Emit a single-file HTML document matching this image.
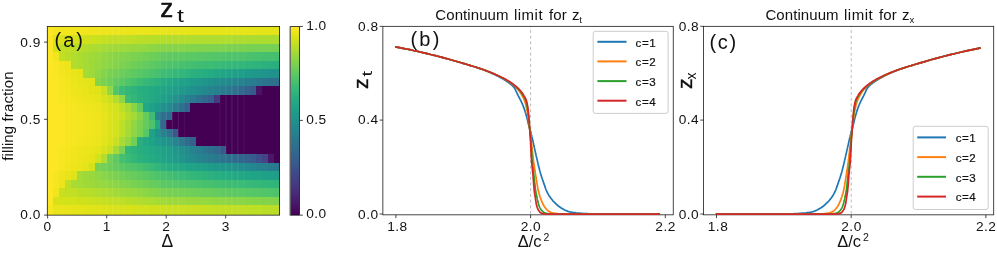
<!DOCTYPE html>
<html><head><meta charset="utf-8"><title>figure</title>
<style>
html,body{margin:0;padding:0;background:#fff;}
body{width:997px;height:255px;overflow:hidden;font-family:"Liberation Sans",sans-serif;}
svg{display:block;will-change:transform;}
svg text{font-family:"Liberation Sans",sans-serif;fill:#111;}
.tk{font-size:13.7px;letter-spacing:0.5px;}
.dl{font-size:17.5px;}
.yl{font-size:15px;letter-spacing:0.12px;}
.ta{font-size:26px;stroke:#111;stroke-width:0.55px;}
.tas{font-size:18px;}
.pl{font-size:20px;}
.tt{font-size:15px;letter-spacing:0.08px;}
.tts{font-size:9.5px;}
.xl{font-size:16.5px;}
.xls{font-size:10.5px;}
.yz{font-size:21px;stroke:#111;stroke-width:0.4px;}
.yzs{font-size:14px;}
.lg{font-size:11.6px;letter-spacing:0.5px;stroke:#111;stroke-width:0.2px;}
</style></head>
<body>
<svg width="997" height="255" viewBox="0 0 997 255">
<defs><linearGradient id="vg" x1="0" y1="0" x2="0" y2="1"><stop offset="0.0000" stop-color="#fde725"/><stop offset="0.0312" stop-color="#ece51b"/><stop offset="0.0625" stop-color="#d8e219"/><stop offset="0.0938" stop-color="#c2df23"/><stop offset="0.1250" stop-color="#addc30"/><stop offset="0.1562" stop-color="#98d83e"/><stop offset="0.1875" stop-color="#84d44b"/><stop offset="0.2188" stop-color="#70cf57"/><stop offset="0.2500" stop-color="#5ec962"/><stop offset="0.2812" stop-color="#4ec36b"/><stop offset="0.3125" stop-color="#3fbc73"/><stop offset="0.3438" stop-color="#32b67a"/><stop offset="0.3750" stop-color="#28ae80"/><stop offset="0.4062" stop-color="#22a785"/><stop offset="0.4375" stop-color="#1fa088"/><stop offset="0.4688" stop-color="#1f988b"/><stop offset="0.5000" stop-color="#21918c"/><stop offset="0.5312" stop-color="#23898e"/><stop offset="0.5625" stop-color="#26828e"/><stop offset="0.5938" stop-color="#297a8e"/><stop offset="0.6250" stop-color="#2c728e"/><stop offset="0.6562" stop-color="#2f6b8e"/><stop offset="0.6875" stop-color="#33638d"/><stop offset="0.7188" stop-color="#375b8d"/><stop offset="0.7500" stop-color="#3b528b"/><stop offset="0.7812" stop-color="#3e4989"/><stop offset="0.8125" stop-color="#424086"/><stop offset="0.8438" stop-color="#453781"/><stop offset="0.8750" stop-color="#472d7b"/><stop offset="0.9062" stop-color="#482374"/><stop offset="0.9375" stop-color="#48186a"/><stop offset="0.9688" stop-color="#470d60"/><stop offset="1.0000" stop-color="#440154"/></linearGradient></defs>
<rect x="0" y="0" width="997" height="255" fill="#ffffff"/>
<g shape-rendering="crispEdges">
<rect x="47.30" y="26.45" width="6.26" height="8.95" fill="#fde725"/>
<rect x="53.26" y="26.45" width="6.26" height="8.95" fill="#f6e620"/>
<rect x="59.21" y="26.45" width="24.13" height="8.95" fill="#f4e61e"/>
<rect x="83.04" y="26.45" width="18.17" height="8.95" fill="#f1e51d"/>
<rect x="100.91" y="26.45" width="24.13" height="8.95" fill="#efe51c"/>
<rect x="124.73" y="26.45" width="24.13" height="8.95" fill="#ece51b"/>
<rect x="148.56" y="26.45" width="24.13" height="8.95" fill="#eae51a"/>
<rect x="172.38" y="26.45" width="83.69" height="8.95" fill="#e7e419"/>
<rect x="255.77" y="26.45" width="24.13" height="8.95" fill="#e5e419"/>
<rect x="47.30" y="35.10" width="6.26" height="8.82" fill="#fde725"/>
<rect x="53.26" y="35.10" width="6.26" height="8.82" fill="#dfe318"/>
<rect x="59.21" y="35.10" width="6.26" height="8.82" fill="#dae319"/>
<rect x="65.17" y="35.10" width="6.26" height="8.82" fill="#d8e219"/>
<rect x="71.13" y="35.10" width="6.26" height="8.82" fill="#d5e21a"/>
<rect x="77.08" y="35.10" width="6.26" height="8.82" fill="#d2e21b"/>
<rect x="83.04" y="35.10" width="6.26" height="8.82" fill="#d0e11c"/>
<rect x="88.99" y="35.10" width="6.26" height="8.82" fill="#cde11d"/>
<rect x="94.95" y="35.10" width="6.26" height="8.82" fill="#cae11f"/>
<rect x="100.91" y="35.10" width="6.26" height="8.82" fill="#c5e021"/>
<rect x="106.86" y="35.10" width="12.21" height="8.82" fill="#c2df23"/>
<rect x="118.78" y="35.10" width="12.21" height="8.82" fill="#c0df25"/>
<rect x="130.69" y="35.10" width="6.26" height="8.82" fill="#bddf26"/>
<rect x="136.65" y="35.10" width="12.21" height="8.82" fill="#bade28"/>
<rect x="148.56" y="35.10" width="6.26" height="8.82" fill="#b8de29"/>
<rect x="154.52" y="35.10" width="12.21" height="8.82" fill="#b5de2b"/>
<rect x="166.43" y="35.10" width="24.13" height="8.82" fill="#b2dd2d"/>
<rect x="190.25" y="35.10" width="41.99" height="8.82" fill="#b0dd2f"/>
<rect x="231.95" y="35.10" width="47.95" height="8.82" fill="#addc30"/>
<rect x="47.30" y="43.62" width="6.26" height="8.82" fill="#fde725"/>
<rect x="53.26" y="43.62" width="6.26" height="8.82" fill="#d2e21b"/>
<rect x="59.21" y="43.62" width="6.26" height="8.82" fill="#c2df23"/>
<rect x="65.17" y="43.62" width="6.26" height="8.82" fill="#c0df25"/>
<rect x="71.13" y="43.62" width="6.26" height="8.82" fill="#bade28"/>
<rect x="77.08" y="43.62" width="6.26" height="8.82" fill="#b8de29"/>
<rect x="83.04" y="43.62" width="6.26" height="8.82" fill="#b2dd2d"/>
<rect x="88.99" y="43.62" width="6.26" height="8.82" fill="#addc30"/>
<rect x="94.95" y="43.62" width="6.26" height="8.82" fill="#aadc32"/>
<rect x="100.91" y="43.62" width="6.26" height="8.82" fill="#a5db36"/>
<rect x="106.86" y="43.62" width="6.26" height="8.82" fill="#a2da37"/>
<rect x="112.82" y="43.62" width="6.26" height="8.82" fill="#a0da39"/>
<rect x="118.78" y="43.62" width="6.26" height="8.82" fill="#9dd93b"/>
<rect x="124.73" y="43.62" width="6.26" height="8.82" fill="#9bd93c"/>
<rect x="130.69" y="43.62" width="6.26" height="8.82" fill="#98d83e"/>
<rect x="136.65" y="43.62" width="6.26" height="8.82" fill="#95d840"/>
<rect x="142.60" y="43.62" width="6.26" height="8.82" fill="#93d741"/>
<rect x="148.56" y="43.62" width="6.26" height="8.82" fill="#8ed645"/>
<rect x="154.52" y="43.62" width="6.26" height="8.82" fill="#8bd646"/>
<rect x="160.47" y="43.62" width="6.26" height="8.82" fill="#89d548"/>
<rect x="166.43" y="43.62" width="18.17" height="8.82" fill="#86d549"/>
<rect x="184.30" y="43.62" width="12.21" height="8.82" fill="#84d44b"/>
<rect x="196.21" y="43.62" width="12.21" height="8.82" fill="#81d34d"/>
<rect x="208.12" y="43.62" width="18.17" height="8.82" fill="#7fd34e"/>
<rect x="225.99" y="43.62" width="12.21" height="8.82" fill="#7cd250"/>
<rect x="237.91" y="43.62" width="12.21" height="8.82" fill="#7ad151"/>
<rect x="249.82" y="43.62" width="18.17" height="8.82" fill="#77d153"/>
<rect x="267.69" y="43.62" width="12.21" height="8.82" fill="#75d054"/>
<rect x="47.30" y="52.13" width="6.26" height="8.82" fill="#fde725"/>
<rect x="53.26" y="52.13" width="6.26" height="8.82" fill="#f1e51d"/>
<rect x="59.21" y="52.13" width="6.26" height="8.82" fill="#c2df23"/>
<rect x="65.17" y="52.13" width="6.26" height="8.82" fill="#bade28"/>
<rect x="71.13" y="52.13" width="6.26" height="8.82" fill="#b2dd2d"/>
<rect x="77.08" y="52.13" width="6.26" height="8.82" fill="#addc30"/>
<rect x="83.04" y="52.13" width="6.26" height="8.82" fill="#a5db36"/>
<rect x="88.99" y="52.13" width="6.26" height="8.82" fill="#a0da39"/>
<rect x="94.95" y="52.13" width="6.26" height="8.82" fill="#9bd93c"/>
<rect x="100.91" y="52.13" width="6.26" height="8.82" fill="#93d741"/>
<rect x="106.86" y="52.13" width="6.26" height="8.82" fill="#8ed645"/>
<rect x="112.82" y="52.13" width="6.26" height="8.82" fill="#89d548"/>
<rect x="118.78" y="52.13" width="6.26" height="8.82" fill="#84d44b"/>
<rect x="124.73" y="52.13" width="6.26" height="8.82" fill="#7fd34e"/>
<rect x="130.69" y="52.13" width="6.26" height="8.82" fill="#7cd250"/>
<rect x="136.65" y="52.13" width="6.26" height="8.82" fill="#77d153"/>
<rect x="142.60" y="52.13" width="6.26" height="8.82" fill="#73d056"/>
<rect x="148.56" y="52.13" width="6.26" height="8.82" fill="#6ece58"/>
<rect x="154.52" y="52.13" width="6.26" height="8.82" fill="#69cd5b"/>
<rect x="160.47" y="52.13" width="6.26" height="8.82" fill="#65cb5e"/>
<rect x="166.43" y="52.13" width="6.26" height="8.82" fill="#60ca60"/>
<rect x="172.38" y="52.13" width="12.21" height="8.82" fill="#5ec962"/>
<rect x="184.30" y="52.13" width="6.26" height="8.82" fill="#5cc863"/>
<rect x="190.25" y="52.13" width="6.26" height="8.82" fill="#5ac864"/>
<rect x="196.21" y="52.13" width="6.26" height="8.82" fill="#58c765"/>
<rect x="202.17" y="52.13" width="12.21" height="8.82" fill="#56c667"/>
<rect x="214.08" y="52.13" width="6.26" height="8.82" fill="#54c568"/>
<rect x="220.04" y="52.13" width="6.26" height="8.82" fill="#52c569"/>
<rect x="225.99" y="52.13" width="6.26" height="8.82" fill="#50c46a"/>
<rect x="231.95" y="52.13" width="12.21" height="8.82" fill="#4ec36b"/>
<rect x="243.86" y="52.13" width="6.26" height="8.82" fill="#4cc26c"/>
<rect x="249.82" y="52.13" width="6.26" height="8.82" fill="#4ac16d"/>
<rect x="255.77" y="52.13" width="6.26" height="8.82" fill="#48c16e"/>
<rect x="261.73" y="52.13" width="12.21" height="8.82" fill="#46c06f"/>
<rect x="273.64" y="52.13" width="6.26" height="8.82" fill="#44bf70"/>
<rect x="47.30" y="60.65" width="6.26" height="8.82" fill="#fde725"/>
<rect x="53.26" y="60.65" width="6.26" height="8.82" fill="#f8e621"/>
<rect x="59.21" y="60.65" width="6.26" height="8.82" fill="#f1e51d"/>
<rect x="65.17" y="60.65" width="6.26" height="8.82" fill="#ece51b"/>
<rect x="71.13" y="60.65" width="6.26" height="8.82" fill="#b2dd2d"/>
<rect x="77.08" y="60.65" width="6.26" height="8.82" fill="#addc30"/>
<rect x="83.04" y="60.65" width="6.26" height="8.82" fill="#a5db36"/>
<rect x="88.99" y="60.65" width="6.26" height="8.82" fill="#9dd93b"/>
<rect x="94.95" y="60.65" width="6.26" height="8.82" fill="#98d83e"/>
<rect x="100.91" y="60.65" width="6.26" height="8.82" fill="#90d743"/>
<rect x="106.86" y="60.65" width="6.26" height="8.82" fill="#8bd646"/>
<rect x="112.82" y="60.65" width="6.26" height="8.82" fill="#84d44b"/>
<rect x="118.78" y="60.65" width="6.26" height="8.82" fill="#7cd250"/>
<rect x="124.73" y="60.65" width="6.26" height="8.82" fill="#75d054"/>
<rect x="130.69" y="60.65" width="6.26" height="8.82" fill="#6ece58"/>
<rect x="136.65" y="60.65" width="6.26" height="8.82" fill="#69cd5b"/>
<rect x="142.60" y="60.65" width="6.26" height="8.82" fill="#63cb5f"/>
<rect x="148.56" y="60.65" width="6.26" height="8.82" fill="#5ec962"/>
<rect x="154.52" y="60.65" width="6.26" height="8.82" fill="#58c765"/>
<rect x="160.47" y="60.65" width="6.26" height="8.82" fill="#52c569"/>
<rect x="166.43" y="60.65" width="6.26" height="8.82" fill="#4ec36b"/>
<rect x="172.38" y="60.65" width="6.26" height="8.82" fill="#4cc26c"/>
<rect x="178.34" y="60.65" width="6.26" height="8.82" fill="#48c16e"/>
<rect x="184.30" y="60.65" width="6.26" height="8.82" fill="#46c06f"/>
<rect x="190.25" y="60.65" width="6.26" height="8.82" fill="#44bf70"/>
<rect x="196.21" y="60.65" width="6.26" height="8.82" fill="#40bd72"/>
<rect x="202.17" y="60.65" width="6.26" height="8.82" fill="#3fbc73"/>
<rect x="208.12" y="60.65" width="6.26" height="8.82" fill="#3dbc74"/>
<rect x="214.08" y="60.65" width="6.26" height="8.82" fill="#3bbb75"/>
<rect x="220.04" y="60.65" width="6.26" height="8.82" fill="#38b977"/>
<rect x="225.99" y="60.65" width="6.26" height="8.82" fill="#37b878"/>
<rect x="231.95" y="60.65" width="6.26" height="8.82" fill="#35b779"/>
<rect x="237.91" y="60.65" width="6.26" height="8.82" fill="#32b67a"/>
<rect x="243.86" y="60.65" width="6.26" height="8.82" fill="#31b57b"/>
<rect x="249.82" y="60.65" width="6.26" height="8.82" fill="#2fb47c"/>
<rect x="255.77" y="60.65" width="6.26" height="8.82" fill="#2eb37c"/>
<rect x="261.73" y="60.65" width="6.26" height="8.82" fill="#2cb17e"/>
<rect x="267.69" y="60.65" width="6.26" height="8.82" fill="#2ab07f"/>
<rect x="273.64" y="60.65" width="6.26" height="8.82" fill="#29af7f"/>
<rect x="47.30" y="69.17" width="6.26" height="8.82" fill="#fde725"/>
<rect x="53.26" y="69.17" width="6.26" height="8.82" fill="#f8e621"/>
<rect x="59.21" y="69.17" width="6.26" height="8.82" fill="#f4e61e"/>
<rect x="65.17" y="69.17" width="6.26" height="8.82" fill="#efe51c"/>
<rect x="71.13" y="69.17" width="6.26" height="8.82" fill="#eae51a"/>
<rect x="77.08" y="69.17" width="6.26" height="8.82" fill="#e5e419"/>
<rect x="83.04" y="69.17" width="6.26" height="8.82" fill="#a5db36"/>
<rect x="88.99" y="69.17" width="6.26" height="8.82" fill="#9bd93c"/>
<rect x="94.95" y="69.17" width="6.26" height="8.82" fill="#90d743"/>
<rect x="100.91" y="69.17" width="6.26" height="8.82" fill="#84d44b"/>
<rect x="106.86" y="69.17" width="6.26" height="8.82" fill="#7ad151"/>
<rect x="112.82" y="69.17" width="6.26" height="8.82" fill="#73d056"/>
<rect x="118.78" y="69.17" width="6.26" height="8.82" fill="#6ccd5a"/>
<rect x="124.73" y="69.17" width="6.26" height="8.82" fill="#65cb5e"/>
<rect x="130.69" y="69.17" width="6.26" height="8.82" fill="#5ec962"/>
<rect x="136.65" y="69.17" width="6.26" height="8.82" fill="#58c765"/>
<rect x="142.60" y="69.17" width="6.26" height="8.82" fill="#52c569"/>
<rect x="148.56" y="69.17" width="6.26" height="8.82" fill="#4cc26c"/>
<rect x="154.52" y="69.17" width="6.26" height="8.82" fill="#46c06f"/>
<rect x="160.47" y="69.17" width="6.26" height="8.82" fill="#40bd72"/>
<rect x="166.43" y="69.17" width="6.26" height="8.82" fill="#3bbb75"/>
<rect x="172.38" y="69.17" width="6.26" height="8.82" fill="#37b878"/>
<rect x="178.34" y="69.17" width="6.26" height="8.82" fill="#32b67a"/>
<rect x="184.30" y="69.17" width="6.26" height="8.82" fill="#2fb47c"/>
<rect x="190.25" y="69.17" width="6.26" height="8.82" fill="#2cb17e"/>
<rect x="196.21" y="69.17" width="6.26" height="8.82" fill="#29af7f"/>
<rect x="202.17" y="69.17" width="6.26" height="8.82" fill="#26ad81"/>
<rect x="208.12" y="69.17" width="6.26" height="8.82" fill="#25ab82"/>
<rect x="214.08" y="69.17" width="6.26" height="8.82" fill="#22a884"/>
<rect x="220.04" y="69.17" width="6.26" height="8.82" fill="#21a685"/>
<rect x="225.99" y="69.17" width="6.26" height="8.82" fill="#20a386"/>
<rect x="231.95" y="69.17" width="6.26" height="8.82" fill="#1fa188"/>
<rect x="237.91" y="69.17" width="6.26" height="8.82" fill="#1f9f88"/>
<rect x="243.86" y="69.17" width="6.26" height="8.82" fill="#1e9c89"/>
<rect x="249.82" y="69.17" width="6.26" height="8.82" fill="#1f9a8a"/>
<rect x="255.77" y="69.17" width="6.26" height="8.82" fill="#1f978b"/>
<rect x="261.73" y="69.17" width="6.26" height="8.82" fill="#1f958b"/>
<rect x="267.69" y="69.17" width="6.26" height="8.82" fill="#20928c"/>
<rect x="273.64" y="69.17" width="6.26" height="8.82" fill="#21918c"/>
<rect x="47.30" y="77.69" width="6.26" height="8.82" fill="#fde725"/>
<rect x="53.26" y="77.69" width="6.26" height="8.82" fill="#fbe723"/>
<rect x="59.21" y="77.69" width="6.26" height="8.82" fill="#f6e620"/>
<rect x="65.17" y="77.69" width="6.26" height="8.82" fill="#f1e51d"/>
<rect x="71.13" y="77.69" width="6.26" height="8.82" fill="#ece51b"/>
<rect x="77.08" y="77.69" width="6.26" height="8.82" fill="#e7e419"/>
<rect x="83.04" y="77.69" width="6.26" height="8.82" fill="#e5e419"/>
<rect x="88.99" y="77.69" width="6.26" height="8.82" fill="#dfe318"/>
<rect x="94.95" y="77.69" width="6.26" height="8.82" fill="#86d549"/>
<rect x="100.91" y="77.69" width="6.26" height="8.82" fill="#7cd250"/>
<rect x="106.86" y="77.69" width="6.26" height="8.82" fill="#70cf57"/>
<rect x="112.82" y="77.69" width="6.26" height="8.82" fill="#65cb5e"/>
<rect x="118.78" y="77.69" width="6.26" height="8.82" fill="#5ac864"/>
<rect x="124.73" y="77.69" width="6.26" height="8.82" fill="#50c46a"/>
<rect x="130.69" y="77.69" width="6.26" height="8.82" fill="#46c06f"/>
<rect x="136.65" y="77.69" width="6.26" height="8.82" fill="#3dbc74"/>
<rect x="142.60" y="77.69" width="6.26" height="8.82" fill="#37b878"/>
<rect x="148.56" y="77.69" width="6.26" height="8.82" fill="#31b57b"/>
<rect x="154.52" y="77.69" width="6.26" height="8.82" fill="#2cb17e"/>
<rect x="160.47" y="77.69" width="6.26" height="8.82" fill="#26ad81"/>
<rect x="166.43" y="77.69" width="6.26" height="8.82" fill="#23a983"/>
<rect x="172.38" y="77.69" width="6.26" height="8.82" fill="#21a685"/>
<rect x="178.34" y="77.69" width="6.26" height="8.82" fill="#1fa287"/>
<rect x="184.30" y="77.69" width="6.26" height="8.82" fill="#1fa088"/>
<rect x="190.25" y="77.69" width="6.26" height="8.82" fill="#1e9c89"/>
<rect x="196.21" y="77.69" width="6.26" height="8.82" fill="#1f998a"/>
<rect x="202.17" y="77.69" width="6.26" height="8.82" fill="#1f958b"/>
<rect x="208.12" y="77.69" width="6.26" height="8.82" fill="#20928c"/>
<rect x="214.08" y="77.69" width="6.26" height="8.82" fill="#21908d"/>
<rect x="220.04" y="77.69" width="6.26" height="8.82" fill="#228c8d"/>
<rect x="225.99" y="77.69" width="6.26" height="8.82" fill="#23898e"/>
<rect x="231.95" y="77.69" width="6.26" height="8.82" fill="#25858e"/>
<rect x="237.91" y="77.69" width="6.26" height="8.82" fill="#26828e"/>
<rect x="243.86" y="77.69" width="6.26" height="8.82" fill="#277f8e"/>
<rect x="249.82" y="77.69" width="6.26" height="8.82" fill="#287c8e"/>
<rect x="255.77" y="77.69" width="6.26" height="8.82" fill="#2a788e"/>
<rect x="261.73" y="77.69" width="6.26" height="8.82" fill="#2b758e"/>
<rect x="267.69" y="77.69" width="6.26" height="8.82" fill="#2c718e"/>
<rect x="273.64" y="77.69" width="6.26" height="8.82" fill="#2e6f8e"/>
<rect x="47.30" y="86.21" width="6.26" height="8.82" fill="#fde725"/>
<rect x="53.26" y="86.21" width="6.26" height="8.82" fill="#fbe723"/>
<rect x="59.21" y="86.21" width="6.26" height="8.82" fill="#f6e620"/>
<rect x="65.17" y="86.21" width="6.26" height="8.82" fill="#f4e61e"/>
<rect x="71.13" y="86.21" width="6.26" height="8.82" fill="#efe51c"/>
<rect x="77.08" y="86.21" width="6.26" height="8.82" fill="#ece51b"/>
<rect x="83.04" y="86.21" width="6.26" height="8.82" fill="#e7e419"/>
<rect x="88.99" y="86.21" width="6.26" height="8.82" fill="#e2e418"/>
<rect x="94.95" y="86.21" width="6.26" height="8.82" fill="#dfe318"/>
<rect x="100.91" y="86.21" width="6.26" height="8.82" fill="#c8e020"/>
<rect x="106.86" y="86.21" width="6.26" height="8.82" fill="#90d743"/>
<rect x="112.82" y="86.21" width="6.26" height="8.82" fill="#50c46a"/>
<rect x="118.78" y="86.21" width="6.26" height="8.82" fill="#3bbb75"/>
<rect x="124.73" y="86.21" width="6.26" height="8.82" fill="#34b679"/>
<rect x="130.69" y="86.21" width="6.26" height="8.82" fill="#2eb37c"/>
<rect x="136.65" y="86.21" width="6.26" height="8.82" fill="#29af7f"/>
<rect x="142.60" y="86.21" width="6.26" height="8.82" fill="#26ad81"/>
<rect x="148.56" y="86.21" width="6.26" height="8.82" fill="#24aa83"/>
<rect x="154.52" y="86.21" width="6.26" height="8.82" fill="#22a785"/>
<rect x="160.47" y="86.21" width="6.26" height="8.82" fill="#21a585"/>
<rect x="166.43" y="86.21" width="6.26" height="8.82" fill="#1fa287"/>
<rect x="172.38" y="86.21" width="6.26" height="8.82" fill="#1f9e89"/>
<rect x="178.34" y="86.21" width="6.26" height="8.82" fill="#1f9a8a"/>
<rect x="184.30" y="86.21" width="6.26" height="8.82" fill="#1f958b"/>
<rect x="190.25" y="86.21" width="6.26" height="8.82" fill="#20928c"/>
<rect x="196.21" y="86.21" width="6.26" height="8.82" fill="#228d8d"/>
<rect x="202.17" y="86.21" width="6.26" height="8.82" fill="#23898e"/>
<rect x="208.12" y="86.21" width="6.26" height="8.82" fill="#25848e"/>
<rect x="214.08" y="86.21" width="6.26" height="8.82" fill="#26818e"/>
<rect x="220.04" y="86.21" width="6.26" height="8.82" fill="#287c8e"/>
<rect x="225.99" y="86.21" width="6.26" height="8.82" fill="#2a788e"/>
<rect x="231.95" y="86.21" width="6.26" height="8.82" fill="#2d718e"/>
<rect x="237.91" y="86.21" width="6.26" height="8.82" fill="#306a8e"/>
<rect x="243.86" y="86.21" width="6.26" height="8.82" fill="#33628d"/>
<rect x="249.82" y="86.21" width="6.26" height="8.82" fill="#375a8c"/>
<rect x="255.77" y="86.21" width="6.26" height="8.82" fill="#471365"/>
<rect x="261.73" y="86.21" width="18.17" height="8.82" fill="#440154"/>
<rect x="47.30" y="94.72" width="6.26" height="8.82" fill="#fde725"/>
<rect x="53.26" y="94.72" width="6.26" height="8.82" fill="#fbe723"/>
<rect x="59.21" y="94.72" width="6.26" height="8.82" fill="#f8e621"/>
<rect x="65.17" y="94.72" width="6.26" height="8.82" fill="#f6e620"/>
<rect x="71.13" y="94.72" width="6.26" height="8.82" fill="#f1e51d"/>
<rect x="77.08" y="94.72" width="6.26" height="8.82" fill="#efe51c"/>
<rect x="83.04" y="94.72" width="6.26" height="8.82" fill="#ece51b"/>
<rect x="88.99" y="94.72" width="6.26" height="8.82" fill="#eae51a"/>
<rect x="94.95" y="94.72" width="6.26" height="8.82" fill="#e5e419"/>
<rect x="100.91" y="94.72" width="6.26" height="8.82" fill="#d8e219"/>
<rect x="106.86" y="94.72" width="6.26" height="8.82" fill="#cae11f"/>
<rect x="112.82" y="94.72" width="6.26" height="8.82" fill="#b2dd2d"/>
<rect x="118.78" y="94.72" width="6.26" height="8.82" fill="#8ed645"/>
<rect x="124.73" y="94.72" width="6.26" height="8.82" fill="#3bbb75"/>
<rect x="130.69" y="94.72" width="6.26" height="8.82" fill="#32b67a"/>
<rect x="136.65" y="94.72" width="6.26" height="8.82" fill="#2cb17e"/>
<rect x="142.60" y="94.72" width="6.26" height="8.82" fill="#27ad81"/>
<rect x="148.56" y="94.72" width="6.26" height="8.82" fill="#23a983"/>
<rect x="154.52" y="94.72" width="6.26" height="8.82" fill="#21a585"/>
<rect x="160.47" y="94.72" width="6.26" height="8.82" fill="#1fa188"/>
<rect x="166.43" y="94.72" width="6.26" height="8.82" fill="#1e9c89"/>
<rect x="172.38" y="94.72" width="6.26" height="8.82" fill="#20938c"/>
<rect x="178.34" y="94.72" width="6.26" height="8.82" fill="#228b8d"/>
<rect x="184.30" y="94.72" width="6.26" height="8.82" fill="#26828e"/>
<rect x="190.25" y="94.72" width="6.26" height="8.82" fill="#297a8e"/>
<rect x="196.21" y="94.72" width="6.26" height="8.82" fill="#2c718e"/>
<rect x="202.17" y="94.72" width="6.26" height="8.82" fill="#31688e"/>
<rect x="208.12" y="94.72" width="6.26" height="8.82" fill="#355f8d"/>
<rect x="214.08" y="94.72" width="6.26" height="8.82" fill="#443a83"/>
<rect x="220.04" y="94.72" width="59.86" height="8.82" fill="#440154"/>
<rect x="47.30" y="103.24" width="12.21" height="8.82" fill="#fde725"/>
<rect x="59.21" y="103.24" width="6.26" height="8.82" fill="#fbe723"/>
<rect x="65.17" y="103.24" width="6.26" height="8.82" fill="#f8e621"/>
<rect x="71.13" y="103.24" width="6.26" height="8.82" fill="#f6e620"/>
<rect x="77.08" y="103.24" width="6.26" height="8.82" fill="#f4e61e"/>
<rect x="83.04" y="103.24" width="6.26" height="8.82" fill="#f1e51d"/>
<rect x="88.99" y="103.24" width="6.26" height="8.82" fill="#efe51c"/>
<rect x="94.95" y="103.24" width="6.26" height="8.82" fill="#ece51b"/>
<rect x="100.91" y="103.24" width="6.26" height="8.82" fill="#e2e418"/>
<rect x="106.86" y="103.24" width="6.26" height="8.82" fill="#dae319"/>
<rect x="112.82" y="103.24" width="6.26" height="8.82" fill="#d2e21b"/>
<rect x="118.78" y="103.24" width="6.26" height="8.82" fill="#bddf26"/>
<rect x="124.73" y="103.24" width="6.26" height="8.82" fill="#a8db34"/>
<rect x="130.69" y="103.24" width="6.26" height="8.82" fill="#86d549"/>
<rect x="136.65" y="103.24" width="6.26" height="8.82" fill="#60ca60"/>
<rect x="142.60" y="103.24" width="6.26" height="8.82" fill="#22a884"/>
<rect x="148.56" y="103.24" width="6.26" height="8.82" fill="#1fa188"/>
<rect x="154.52" y="103.24" width="6.26" height="8.82" fill="#1f9a8a"/>
<rect x="160.47" y="103.24" width="6.26" height="8.82" fill="#20928c"/>
<rect x="166.43" y="103.24" width="6.26" height="8.82" fill="#228b8d"/>
<rect x="172.38" y="103.24" width="6.26" height="8.82" fill="#277f8e"/>
<rect x="178.34" y="103.24" width="6.26" height="8.82" fill="#2c718e"/>
<rect x="184.30" y="103.24" width="6.26" height="8.82" fill="#32648e"/>
<rect x="190.25" y="103.24" width="89.65" height="8.82" fill="#440154"/>
<rect x="47.30" y="111.76" width="12.21" height="8.82" fill="#fde725"/>
<rect x="59.21" y="111.76" width="6.26" height="8.82" fill="#fbe723"/>
<rect x="65.17" y="111.76" width="6.26" height="8.82" fill="#f8e621"/>
<rect x="71.13" y="111.76" width="12.21" height="8.82" fill="#f6e620"/>
<rect x="83.04" y="111.76" width="6.26" height="8.82" fill="#f4e61e"/>
<rect x="88.99" y="111.76" width="6.26" height="8.82" fill="#f1e51d"/>
<rect x="94.95" y="111.76" width="6.26" height="8.82" fill="#efe51c"/>
<rect x="100.91" y="111.76" width="6.26" height="8.82" fill="#e7e419"/>
<rect x="106.86" y="111.76" width="6.26" height="8.82" fill="#dde318"/>
<rect x="112.82" y="111.76" width="6.26" height="8.82" fill="#d5e21a"/>
<rect x="118.78" y="111.76" width="6.26" height="8.82" fill="#cae11f"/>
<rect x="124.73" y="111.76" width="6.26" height="8.82" fill="#b2dd2d"/>
<rect x="130.69" y="111.76" width="6.26" height="8.82" fill="#a2da37"/>
<rect x="136.65" y="111.76" width="6.26" height="8.82" fill="#86d549"/>
<rect x="142.60" y="111.76" width="6.26" height="8.82" fill="#65cb5e"/>
<rect x="148.56" y="111.76" width="6.26" height="8.82" fill="#3fbc73"/>
<rect x="154.52" y="111.76" width="6.26" height="8.82" fill="#25848e"/>
<rect x="160.47" y="111.76" width="6.26" height="8.82" fill="#2c728e"/>
<rect x="166.43" y="111.76" width="6.26" height="8.82" fill="#306a8e"/>
<rect x="172.38" y="111.76" width="107.52" height="8.82" fill="#440154"/>
<rect x="47.30" y="120.28" width="12.21" height="8.82" fill="#fde725"/>
<rect x="59.21" y="120.28" width="6.26" height="8.82" fill="#fbe723"/>
<rect x="65.17" y="120.28" width="6.26" height="8.82" fill="#f8e621"/>
<rect x="71.13" y="120.28" width="12.21" height="8.82" fill="#f6e620"/>
<rect x="83.04" y="120.28" width="6.26" height="8.82" fill="#f4e61e"/>
<rect x="88.99" y="120.28" width="6.26" height="8.82" fill="#f1e51d"/>
<rect x="94.95" y="120.28" width="6.26" height="8.82" fill="#efe51c"/>
<rect x="100.91" y="120.28" width="6.26" height="8.82" fill="#e5e419"/>
<rect x="106.86" y="120.28" width="6.26" height="8.82" fill="#dae319"/>
<rect x="112.82" y="120.28" width="6.26" height="8.82" fill="#d2e21b"/>
<rect x="118.78" y="120.28" width="6.26" height="8.82" fill="#bddf26"/>
<rect x="124.73" y="120.28" width="6.26" height="8.82" fill="#a8db34"/>
<rect x="130.69" y="120.28" width="6.26" height="8.82" fill="#90d743"/>
<rect x="136.65" y="120.28" width="6.26" height="8.82" fill="#7ad151"/>
<rect x="142.60" y="120.28" width="6.26" height="8.82" fill="#65cb5e"/>
<rect x="148.56" y="120.28" width="6.26" height="8.82" fill="#4ec36b"/>
<rect x="154.52" y="120.28" width="6.26" height="8.82" fill="#22a884"/>
<rect x="160.47" y="120.28" width="6.26" height="8.82" fill="#306a8e"/>
<rect x="166.43" y="120.28" width="113.47" height="8.82" fill="#440154"/>
<rect x="47.30" y="128.80" width="12.21" height="8.82" fill="#fde725"/>
<rect x="59.21" y="128.80" width="6.26" height="8.82" fill="#fbe723"/>
<rect x="65.17" y="128.80" width="6.26" height="8.82" fill="#f8e621"/>
<rect x="71.13" y="128.80" width="12.21" height="8.82" fill="#f6e620"/>
<rect x="83.04" y="128.80" width="6.26" height="8.82" fill="#f4e61e"/>
<rect x="88.99" y="128.80" width="6.26" height="8.82" fill="#f1e51d"/>
<rect x="94.95" y="128.80" width="6.26" height="8.82" fill="#efe51c"/>
<rect x="100.91" y="128.80" width="6.26" height="8.82" fill="#e5e419"/>
<rect x="106.86" y="128.80" width="6.26" height="8.82" fill="#dae319"/>
<rect x="112.82" y="128.80" width="6.26" height="8.82" fill="#d2e21b"/>
<rect x="118.78" y="128.80" width="6.26" height="8.82" fill="#bddf26"/>
<rect x="124.73" y="128.80" width="6.26" height="8.82" fill="#a5db36"/>
<rect x="130.69" y="128.80" width="6.26" height="8.82" fill="#8ed645"/>
<rect x="136.65" y="128.80" width="6.26" height="8.82" fill="#77d153"/>
<rect x="142.60" y="128.80" width="6.26" height="8.82" fill="#58c765"/>
<rect x="148.56" y="128.80" width="6.26" height="8.82" fill="#1fa287"/>
<rect x="154.52" y="128.80" width="6.26" height="8.82" fill="#21918c"/>
<rect x="160.47" y="128.80" width="6.26" height="8.82" fill="#25848e"/>
<rect x="166.43" y="128.80" width="6.26" height="8.82" fill="#2b758e"/>
<rect x="172.38" y="128.80" width="6.26" height="8.82" fill="#38588c"/>
<rect x="178.34" y="128.80" width="101.56" height="8.82" fill="#440154"/>
<rect x="47.30" y="137.31" width="12.21" height="8.82" fill="#fde725"/>
<rect x="59.21" y="137.31" width="6.26" height="8.82" fill="#fbe723"/>
<rect x="65.17" y="137.31" width="6.26" height="8.82" fill="#f8e621"/>
<rect x="71.13" y="137.31" width="6.26" height="8.82" fill="#f6e620"/>
<rect x="77.08" y="137.31" width="6.26" height="8.82" fill="#f4e61e"/>
<rect x="83.04" y="137.31" width="6.26" height="8.82" fill="#f1e51d"/>
<rect x="88.99" y="137.31" width="6.26" height="8.82" fill="#efe51c"/>
<rect x="94.95" y="137.31" width="6.26" height="8.82" fill="#ece51b"/>
<rect x="100.91" y="137.31" width="6.26" height="8.82" fill="#e2e418"/>
<rect x="106.86" y="137.31" width="6.26" height="8.82" fill="#d8e219"/>
<rect x="112.82" y="137.31" width="6.26" height="8.82" fill="#c8e020"/>
<rect x="118.78" y="137.31" width="6.26" height="8.82" fill="#a8db34"/>
<rect x="124.73" y="137.31" width="6.26" height="8.82" fill="#90d743"/>
<rect x="130.69" y="137.31" width="6.26" height="8.82" fill="#70cf57"/>
<rect x="136.65" y="137.31" width="6.26" height="8.82" fill="#29af7f"/>
<rect x="142.60" y="137.31" width="6.26" height="8.82" fill="#22a884"/>
<rect x="148.56" y="137.31" width="6.26" height="8.82" fill="#1fa287"/>
<rect x="154.52" y="137.31" width="6.26" height="8.82" fill="#1e9c89"/>
<rect x="160.47" y="137.31" width="6.26" height="8.82" fill="#1f968b"/>
<rect x="166.43" y="137.31" width="6.26" height="8.82" fill="#21918c"/>
<rect x="172.38" y="137.31" width="6.26" height="8.82" fill="#25848e"/>
<rect x="178.34" y="137.31" width="6.26" height="8.82" fill="#2a788e"/>
<rect x="184.30" y="137.31" width="6.26" height="8.82" fill="#2f6c8e"/>
<rect x="190.25" y="137.31" width="6.26" height="8.82" fill="#355f8d"/>
<rect x="196.21" y="137.31" width="83.69" height="8.82" fill="#440154"/>
<rect x="47.30" y="145.83" width="6.26" height="8.82" fill="#fde725"/>
<rect x="53.26" y="145.83" width="6.26" height="8.82" fill="#fbe723"/>
<rect x="59.21" y="145.83" width="6.26" height="8.82" fill="#f8e621"/>
<rect x="65.17" y="145.83" width="6.26" height="8.82" fill="#f6e620"/>
<rect x="71.13" y="145.83" width="6.26" height="8.82" fill="#f1e51d"/>
<rect x="77.08" y="145.83" width="6.26" height="8.82" fill="#efe51c"/>
<rect x="83.04" y="145.83" width="6.26" height="8.82" fill="#ece51b"/>
<rect x="88.99" y="145.83" width="6.26" height="8.82" fill="#eae51a"/>
<rect x="94.95" y="145.83" width="6.26" height="8.82" fill="#e5e419"/>
<rect x="100.91" y="145.83" width="6.26" height="8.82" fill="#d8e219"/>
<rect x="106.86" y="145.83" width="6.26" height="8.82" fill="#c8e020"/>
<rect x="112.82" y="145.83" width="6.26" height="8.82" fill="#a2da37"/>
<rect x="118.78" y="145.83" width="6.26" height="8.82" fill="#7ad151"/>
<rect x="124.73" y="145.83" width="6.26" height="8.82" fill="#32b67a"/>
<rect x="130.69" y="145.83" width="6.26" height="8.82" fill="#2eb37c"/>
<rect x="136.65" y="145.83" width="6.26" height="8.82" fill="#29af7f"/>
<rect x="142.60" y="145.83" width="6.26" height="8.82" fill="#25ac82"/>
<rect x="148.56" y="145.83" width="6.26" height="8.82" fill="#23a983"/>
<rect x="154.52" y="145.83" width="6.26" height="8.82" fill="#21a585"/>
<rect x="160.47" y="145.83" width="6.26" height="8.82" fill="#1fa287"/>
<rect x="166.43" y="145.83" width="6.26" height="8.82" fill="#1f9f88"/>
<rect x="172.38" y="145.83" width="6.26" height="8.82" fill="#1f988b"/>
<rect x="178.34" y="145.83" width="6.26" height="8.82" fill="#21918c"/>
<rect x="184.30" y="145.83" width="6.26" height="8.82" fill="#238a8d"/>
<rect x="190.25" y="145.83" width="6.26" height="8.82" fill="#25838e"/>
<rect x="196.21" y="145.83" width="6.26" height="8.82" fill="#287d8e"/>
<rect x="202.17" y="145.83" width="6.26" height="8.82" fill="#2a768e"/>
<rect x="208.12" y="145.83" width="6.26" height="8.82" fill="#2e6f8e"/>
<rect x="214.08" y="145.83" width="6.26" height="8.82" fill="#31688e"/>
<rect x="220.04" y="145.83" width="6.26" height="8.82" fill="#375a8c"/>
<rect x="225.99" y="145.83" width="53.91" height="8.82" fill="#440154"/>
<rect x="47.30" y="154.35" width="6.26" height="8.82" fill="#fde725"/>
<rect x="53.26" y="154.35" width="6.26" height="8.82" fill="#fbe723"/>
<rect x="59.21" y="154.35" width="6.26" height="8.82" fill="#f8e621"/>
<rect x="65.17" y="154.35" width="6.26" height="8.82" fill="#f4e61e"/>
<rect x="71.13" y="154.35" width="6.26" height="8.82" fill="#f1e51d"/>
<rect x="77.08" y="154.35" width="6.26" height="8.82" fill="#ece51b"/>
<rect x="83.04" y="154.35" width="6.26" height="8.82" fill="#eae51a"/>
<rect x="88.99" y="154.35" width="6.26" height="8.82" fill="#e5e419"/>
<rect x="94.95" y="154.35" width="6.26" height="8.82" fill="#d2e21b"/>
<rect x="100.91" y="154.35" width="6.26" height="8.82" fill="#b2dd2d"/>
<rect x="106.86" y="154.35" width="6.26" height="8.82" fill="#70cf57"/>
<rect x="112.82" y="154.35" width="6.26" height="8.82" fill="#5ec962"/>
<rect x="118.78" y="154.35" width="6.26" height="8.82" fill="#44bf70"/>
<rect x="124.73" y="154.35" width="6.26" height="8.82" fill="#3bbb75"/>
<rect x="130.69" y="154.35" width="6.26" height="8.82" fill="#32b67a"/>
<rect x="136.65" y="154.35" width="6.26" height="8.82" fill="#2cb17e"/>
<rect x="142.60" y="154.35" width="6.26" height="8.82" fill="#28ae80"/>
<rect x="148.56" y="154.35" width="6.26" height="8.82" fill="#25ab82"/>
<rect x="154.52" y="154.35" width="6.26" height="8.82" fill="#22a884"/>
<rect x="160.47" y="154.35" width="6.26" height="8.82" fill="#20a486"/>
<rect x="166.43" y="154.35" width="6.26" height="8.82" fill="#1fa188"/>
<rect x="172.38" y="154.35" width="6.26" height="8.82" fill="#1e9b8a"/>
<rect x="178.34" y="154.35" width="6.26" height="8.82" fill="#1f958b"/>
<rect x="184.30" y="154.35" width="6.26" height="8.82" fill="#21908d"/>
<rect x="190.25" y="154.35" width="6.26" height="8.82" fill="#238a8d"/>
<rect x="196.21" y="154.35" width="6.26" height="8.82" fill="#25848e"/>
<rect x="202.17" y="154.35" width="6.26" height="8.82" fill="#27808e"/>
<rect x="208.12" y="154.35" width="6.26" height="8.82" fill="#287c8e"/>
<rect x="214.08" y="154.35" width="6.26" height="8.82" fill="#2a788e"/>
<rect x="220.04" y="154.35" width="6.26" height="8.82" fill="#2c738e"/>
<rect x="225.99" y="154.35" width="6.26" height="8.82" fill="#2d708e"/>
<rect x="231.95" y="154.35" width="6.26" height="8.82" fill="#2f6b8e"/>
<rect x="237.91" y="154.35" width="6.26" height="8.82" fill="#31668e"/>
<rect x="243.86" y="154.35" width="6.26" height="8.82" fill="#34618d"/>
<rect x="249.82" y="154.35" width="6.26" height="8.82" fill="#375b8d"/>
<rect x="255.77" y="154.35" width="6.26" height="8.82" fill="#3c508b"/>
<rect x="261.73" y="154.35" width="6.26" height="8.82" fill="#414487"/>
<rect x="267.69" y="154.35" width="6.26" height="8.82" fill="#481769"/>
<rect x="273.64" y="154.35" width="6.26" height="8.82" fill="#440154"/>
<rect x="47.30" y="162.87" width="6.26" height="8.82" fill="#fde725"/>
<rect x="53.26" y="162.87" width="6.26" height="8.82" fill="#fbe723"/>
<rect x="59.21" y="162.87" width="6.26" height="8.82" fill="#f6e620"/>
<rect x="65.17" y="162.87" width="6.26" height="8.82" fill="#f1e51d"/>
<rect x="71.13" y="162.87" width="6.26" height="8.82" fill="#efe51c"/>
<rect x="77.08" y="162.87" width="6.26" height="8.82" fill="#eae51a"/>
<rect x="83.04" y="162.87" width="6.26" height="8.82" fill="#e5e419"/>
<rect x="88.99" y="162.87" width="6.26" height="8.82" fill="#d2e21b"/>
<rect x="94.95" y="162.87" width="6.26" height="8.82" fill="#7ad151"/>
<rect x="100.91" y="162.87" width="6.26" height="8.82" fill="#73d056"/>
<rect x="106.86" y="162.87" width="6.26" height="8.82" fill="#6ccd5a"/>
<rect x="112.82" y="162.87" width="6.26" height="8.82" fill="#63cb5f"/>
<rect x="118.78" y="162.87" width="6.26" height="8.82" fill="#5ac864"/>
<rect x="124.73" y="162.87" width="6.26" height="8.82" fill="#52c569"/>
<rect x="130.69" y="162.87" width="6.26" height="8.82" fill="#4ec36b"/>
<rect x="136.65" y="162.87" width="6.26" height="8.82" fill="#48c16e"/>
<rect x="142.60" y="162.87" width="6.26" height="8.82" fill="#40bd72"/>
<rect x="148.56" y="162.87" width="6.26" height="8.82" fill="#38b977"/>
<rect x="154.52" y="162.87" width="6.26" height="8.82" fill="#31b57b"/>
<rect x="160.47" y="162.87" width="6.26" height="8.82" fill="#2cb17e"/>
<rect x="166.43" y="162.87" width="6.26" height="8.82" fill="#26ad81"/>
<rect x="172.38" y="162.87" width="6.26" height="8.82" fill="#25ab82"/>
<rect x="178.34" y="162.87" width="6.26" height="8.82" fill="#22a884"/>
<rect x="184.30" y="162.87" width="6.26" height="8.82" fill="#21a685"/>
<rect x="190.25" y="162.87" width="6.26" height="8.82" fill="#20a386"/>
<rect x="196.21" y="162.87" width="6.26" height="8.82" fill="#1fa188"/>
<rect x="202.17" y="162.87" width="6.26" height="8.82" fill="#1f9f88"/>
<rect x="208.12" y="162.87" width="6.26" height="8.82" fill="#1e9c89"/>
<rect x="214.08" y="162.87" width="6.26" height="8.82" fill="#1f9a8a"/>
<rect x="220.04" y="162.87" width="6.26" height="8.82" fill="#1f978b"/>
<rect x="225.99" y="162.87" width="6.26" height="8.82" fill="#1f958b"/>
<rect x="231.95" y="162.87" width="6.26" height="8.82" fill="#20928c"/>
<rect x="237.91" y="162.87" width="6.26" height="8.82" fill="#218e8d"/>
<rect x="243.86" y="162.87" width="6.26" height="8.82" fill="#238a8d"/>
<rect x="249.82" y="162.87" width="6.26" height="8.82" fill="#24868e"/>
<rect x="255.77" y="162.87" width="6.26" height="8.82" fill="#26828e"/>
<rect x="261.73" y="162.87" width="6.26" height="8.82" fill="#27808e"/>
<rect x="267.69" y="162.87" width="6.26" height="8.82" fill="#287c8e"/>
<rect x="273.64" y="162.87" width="6.26" height="8.82" fill="#2a788e"/>
<rect x="47.30" y="171.39" width="6.26" height="8.82" fill="#fde725"/>
<rect x="53.26" y="171.39" width="6.26" height="8.82" fill="#f6e620"/>
<rect x="59.21" y="171.39" width="6.26" height="8.82" fill="#efe51c"/>
<rect x="65.17" y="171.39" width="6.26" height="8.82" fill="#e7e419"/>
<rect x="71.13" y="171.39" width="6.26" height="8.82" fill="#dfe318"/>
<rect x="77.08" y="171.39" width="6.26" height="8.82" fill="#a5db36"/>
<rect x="83.04" y="171.39" width="6.26" height="8.82" fill="#9dd93b"/>
<rect x="88.99" y="171.39" width="6.26" height="8.82" fill="#98d83e"/>
<rect x="94.95" y="171.39" width="6.26" height="8.82" fill="#90d743"/>
<rect x="100.91" y="171.39" width="6.26" height="8.82" fill="#89d548"/>
<rect x="106.86" y="171.39" width="6.26" height="8.82" fill="#81d34d"/>
<rect x="112.82" y="171.39" width="6.26" height="8.82" fill="#7ad151"/>
<rect x="118.78" y="171.39" width="6.26" height="8.82" fill="#73d056"/>
<rect x="124.73" y="171.39" width="6.26" height="8.82" fill="#6ccd5a"/>
<rect x="130.69" y="171.39" width="6.26" height="8.82" fill="#67cc5c"/>
<rect x="136.65" y="171.39" width="6.26" height="8.82" fill="#60ca60"/>
<rect x="142.60" y="171.39" width="6.26" height="8.82" fill="#5ac864"/>
<rect x="148.56" y="171.39" width="6.26" height="8.82" fill="#54c568"/>
<rect x="154.52" y="171.39" width="6.26" height="8.82" fill="#4ec36b"/>
<rect x="160.47" y="171.39" width="6.26" height="8.82" fill="#4ac16d"/>
<rect x="166.43" y="171.39" width="6.26" height="8.82" fill="#44bf70"/>
<rect x="172.38" y="171.39" width="6.26" height="8.82" fill="#3fbc73"/>
<rect x="178.34" y="171.39" width="6.26" height="8.82" fill="#3bbb75"/>
<rect x="184.30" y="171.39" width="6.26" height="8.82" fill="#38b977"/>
<rect x="190.25" y="171.39" width="6.26" height="8.82" fill="#34b679"/>
<rect x="196.21" y="171.39" width="6.26" height="8.82" fill="#31b57b"/>
<rect x="202.17" y="171.39" width="6.26" height="8.82" fill="#2eb37c"/>
<rect x="208.12" y="171.39" width="6.26" height="8.82" fill="#2cb17e"/>
<rect x="214.08" y="171.39" width="6.26" height="8.82" fill="#28ae80"/>
<rect x="220.04" y="171.39" width="6.26" height="8.82" fill="#26ad81"/>
<rect x="225.99" y="171.39" width="6.26" height="8.82" fill="#25ab82"/>
<rect x="231.95" y="171.39" width="6.26" height="8.82" fill="#23a983"/>
<rect x="237.91" y="171.39" width="6.26" height="8.82" fill="#22a785"/>
<rect x="243.86" y="171.39" width="6.26" height="8.82" fill="#21a685"/>
<rect x="249.82" y="171.39" width="6.26" height="8.82" fill="#20a486"/>
<rect x="255.77" y="171.39" width="6.26" height="8.82" fill="#20a386"/>
<rect x="261.73" y="171.39" width="6.26" height="8.82" fill="#1fa187"/>
<rect x="267.69" y="171.39" width="6.26" height="8.82" fill="#1fa088"/>
<rect x="273.64" y="171.39" width="6.26" height="8.82" fill="#1f9f88"/>
<rect x="47.30" y="179.90" width="6.26" height="8.82" fill="#fde725"/>
<rect x="53.26" y="179.90" width="6.26" height="8.82" fill="#f6e620"/>
<rect x="59.21" y="179.90" width="6.26" height="8.82" fill="#ece51b"/>
<rect x="65.17" y="179.90" width="6.26" height="8.82" fill="#bddf26"/>
<rect x="71.13" y="179.90" width="6.26" height="8.82" fill="#a8db34"/>
<rect x="77.08" y="179.90" width="6.26" height="8.82" fill="#a5db36"/>
<rect x="83.04" y="179.90" width="6.26" height="8.82" fill="#a0da39"/>
<rect x="88.99" y="179.90" width="6.26" height="8.82" fill="#9dd93b"/>
<rect x="94.95" y="179.90" width="6.26" height="8.82" fill="#98d83e"/>
<rect x="100.91" y="179.90" width="6.26" height="8.82" fill="#95d840"/>
<rect x="106.86" y="179.90" width="6.26" height="8.82" fill="#90d743"/>
<rect x="112.82" y="179.90" width="6.26" height="8.82" fill="#8bd646"/>
<rect x="118.78" y="179.90" width="6.26" height="8.82" fill="#84d44b"/>
<rect x="124.73" y="179.90" width="6.26" height="8.82" fill="#7fd34e"/>
<rect x="130.69" y="179.90" width="6.26" height="8.82" fill="#7ad151"/>
<rect x="136.65" y="179.90" width="6.26" height="8.82" fill="#73d056"/>
<rect x="142.60" y="179.90" width="6.26" height="8.82" fill="#6ece58"/>
<rect x="148.56" y="179.90" width="6.26" height="8.82" fill="#67cc5c"/>
<rect x="154.52" y="179.90" width="6.26" height="8.82" fill="#63cb5f"/>
<rect x="160.47" y="179.90" width="6.26" height="8.82" fill="#5cc863"/>
<rect x="166.43" y="179.90" width="6.26" height="8.82" fill="#58c765"/>
<rect x="172.38" y="179.90" width="6.26" height="8.82" fill="#56c667"/>
<rect x="178.34" y="179.90" width="6.26" height="8.82" fill="#52c569"/>
<rect x="184.30" y="179.90" width="6.26" height="8.82" fill="#50c46a"/>
<rect x="190.25" y="179.90" width="6.26" height="8.82" fill="#4ec36b"/>
<rect x="196.21" y="179.90" width="6.26" height="8.82" fill="#4cc26c"/>
<rect x="202.17" y="179.90" width="6.26" height="8.82" fill="#48c16e"/>
<rect x="208.12" y="179.90" width="6.26" height="8.82" fill="#46c06f"/>
<rect x="214.08" y="179.90" width="6.26" height="8.82" fill="#44bf70"/>
<rect x="220.04" y="179.90" width="6.26" height="8.82" fill="#40bd72"/>
<rect x="225.99" y="179.90" width="6.26" height="8.82" fill="#3fbc73"/>
<rect x="231.95" y="179.90" width="6.26" height="8.82" fill="#3dbc74"/>
<rect x="237.91" y="179.90" width="6.26" height="8.82" fill="#3bbb75"/>
<rect x="243.86" y="179.90" width="6.26" height="8.82" fill="#38b977"/>
<rect x="249.82" y="179.90" width="6.26" height="8.82" fill="#37b878"/>
<rect x="255.77" y="179.90" width="6.26" height="8.82" fill="#35b779"/>
<rect x="261.73" y="179.90" width="6.26" height="8.82" fill="#32b67a"/>
<rect x="267.69" y="179.90" width="6.26" height="8.82" fill="#31b57b"/>
<rect x="273.64" y="179.90" width="6.26" height="8.82" fill="#2fb47c"/>
<rect x="47.30" y="188.42" width="6.26" height="8.82" fill="#fde725"/>
<rect x="53.26" y="188.42" width="6.26" height="8.82" fill="#f1e51d"/>
<rect x="59.21" y="188.42" width="6.26" height="8.82" fill="#c8e020"/>
<rect x="65.17" y="188.42" width="6.26" height="8.82" fill="#c2df23"/>
<rect x="71.13" y="188.42" width="6.26" height="8.82" fill="#c0df25"/>
<rect x="77.08" y="188.42" width="6.26" height="8.82" fill="#bade28"/>
<rect x="83.04" y="188.42" width="6.26" height="8.82" fill="#b8de29"/>
<rect x="88.99" y="188.42" width="6.26" height="8.82" fill="#b5de2b"/>
<rect x="94.95" y="188.42" width="6.26" height="8.82" fill="#b0dd2f"/>
<rect x="100.91" y="188.42" width="6.26" height="8.82" fill="#addc30"/>
<rect x="106.86" y="188.42" width="6.26" height="8.82" fill="#a8db34"/>
<rect x="112.82" y="188.42" width="6.26" height="8.82" fill="#a2da37"/>
<rect x="118.78" y="188.42" width="6.26" height="8.82" fill="#9dd93b"/>
<rect x="124.73" y="188.42" width="6.26" height="8.82" fill="#98d83e"/>
<rect x="130.69" y="188.42" width="6.26" height="8.82" fill="#95d840"/>
<rect x="136.65" y="188.42" width="6.26" height="8.82" fill="#90d743"/>
<rect x="142.60" y="188.42" width="6.26" height="8.82" fill="#8bd646"/>
<rect x="148.56" y="188.42" width="6.26" height="8.82" fill="#86d549"/>
<rect x="154.52" y="188.42" width="6.26" height="8.82" fill="#81d34d"/>
<rect x="160.47" y="188.42" width="6.26" height="8.82" fill="#7cd250"/>
<rect x="166.43" y="188.42" width="6.26" height="8.82" fill="#77d153"/>
<rect x="172.38" y="188.42" width="6.26" height="8.82" fill="#75d054"/>
<rect x="178.34" y="188.42" width="6.26" height="8.82" fill="#73d056"/>
<rect x="184.30" y="188.42" width="6.26" height="8.82" fill="#70cf57"/>
<rect x="190.25" y="188.42" width="6.26" height="8.82" fill="#6ece58"/>
<rect x="196.21" y="188.42" width="6.26" height="8.82" fill="#6ccd5a"/>
<rect x="202.17" y="188.42" width="6.26" height="8.82" fill="#69cd5b"/>
<rect x="208.12" y="188.42" width="6.26" height="8.82" fill="#67cc5c"/>
<rect x="214.08" y="188.42" width="6.26" height="8.82" fill="#63cb5f"/>
<rect x="220.04" y="188.42" width="6.26" height="8.82" fill="#60ca60"/>
<rect x="225.99" y="188.42" width="6.26" height="8.82" fill="#5ec962"/>
<rect x="231.95" y="188.42" width="6.26" height="8.82" fill="#5cc863"/>
<rect x="237.91" y="188.42" width="6.26" height="8.82" fill="#5ac864"/>
<rect x="243.86" y="188.42" width="6.26" height="8.82" fill="#58c765"/>
<rect x="249.82" y="188.42" width="6.26" height="8.82" fill="#56c667"/>
<rect x="255.77" y="188.42" width="6.26" height="8.82" fill="#54c568"/>
<rect x="261.73" y="188.42" width="6.26" height="8.82" fill="#52c569"/>
<rect x="267.69" y="188.42" width="6.26" height="8.82" fill="#50c46a"/>
<rect x="273.64" y="188.42" width="6.26" height="8.82" fill="#4ec36b"/>
<rect x="47.30" y="196.94" width="6.26" height="8.82" fill="#fde725"/>
<rect x="53.26" y="196.94" width="6.26" height="8.82" fill="#d8e219"/>
<rect x="59.21" y="196.94" width="6.26" height="8.82" fill="#d5e21a"/>
<rect x="65.17" y="196.94" width="12.21" height="8.82" fill="#d2e21b"/>
<rect x="77.08" y="196.94" width="6.26" height="8.82" fill="#d0e11c"/>
<rect x="83.04" y="196.94" width="6.26" height="8.82" fill="#cde11d"/>
<rect x="88.99" y="196.94" width="6.26" height="8.82" fill="#cae11f"/>
<rect x="94.95" y="196.94" width="6.26" height="8.82" fill="#c8e020"/>
<rect x="100.91" y="196.94" width="6.26" height="8.82" fill="#c5e021"/>
<rect x="106.86" y="196.94" width="6.26" height="8.82" fill="#c2df23"/>
<rect x="112.82" y="196.94" width="6.26" height="8.82" fill="#c0df25"/>
<rect x="118.78" y="196.94" width="6.26" height="8.82" fill="#bddf26"/>
<rect x="124.73" y="196.94" width="6.26" height="8.82" fill="#b8de29"/>
<rect x="130.69" y="196.94" width="6.26" height="8.82" fill="#b5de2b"/>
<rect x="136.65" y="196.94" width="6.26" height="8.82" fill="#b0dd2f"/>
<rect x="142.60" y="196.94" width="6.26" height="8.82" fill="#addc30"/>
<rect x="148.56" y="196.94" width="6.26" height="8.82" fill="#aadc32"/>
<rect x="154.52" y="196.94" width="6.26" height="8.82" fill="#a5db36"/>
<rect x="160.47" y="196.94" width="6.26" height="8.82" fill="#a2da37"/>
<rect x="166.43" y="196.94" width="12.21" height="8.82" fill="#9dd93b"/>
<rect x="178.34" y="196.94" width="6.26" height="8.82" fill="#9bd93c"/>
<rect x="184.30" y="196.94" width="12.21" height="8.82" fill="#98d83e"/>
<rect x="196.21" y="196.94" width="12.21" height="8.82" fill="#95d840"/>
<rect x="208.12" y="196.94" width="6.26" height="8.82" fill="#93d741"/>
<rect x="214.08" y="196.94" width="12.21" height="8.82" fill="#90d743"/>
<rect x="225.99" y="196.94" width="6.26" height="8.82" fill="#8ed645"/>
<rect x="231.95" y="196.94" width="12.21" height="8.82" fill="#8bd646"/>
<rect x="243.86" y="196.94" width="6.26" height="8.82" fill="#89d548"/>
<rect x="249.82" y="196.94" width="12.21" height="8.82" fill="#86d549"/>
<rect x="261.73" y="196.94" width="12.21" height="8.82" fill="#84d44b"/>
<rect x="273.64" y="196.94" width="6.26" height="8.82" fill="#81d34d"/>
<rect x="47.30" y="205.46" width="6.26" height="9.99" fill="#f6e620"/>
<rect x="53.26" y="205.46" width="12.21" height="9.99" fill="#eae51a"/>
<rect x="65.17" y="205.46" width="6.26" height="9.99" fill="#e7e419"/>
<rect x="71.13" y="205.46" width="12.21" height="9.99" fill="#e5e419"/>
<rect x="83.04" y="205.46" width="6.26" height="9.99" fill="#e2e418"/>
<rect x="88.99" y="205.46" width="12.21" height="9.99" fill="#dfe318"/>
<rect x="100.91" y="205.46" width="6.26" height="9.99" fill="#dde318"/>
<rect x="106.86" y="205.46" width="12.21" height="9.99" fill="#dae319"/>
<rect x="118.78" y="205.46" width="12.21" height="9.99" fill="#d8e219"/>
<rect x="130.69" y="205.46" width="6.26" height="9.99" fill="#d5e21a"/>
<rect x="136.65" y="205.46" width="12.21" height="9.99" fill="#d2e21b"/>
<rect x="148.56" y="205.46" width="12.21" height="9.99" fill="#d0e11c"/>
<rect x="160.47" y="205.46" width="12.21" height="9.99" fill="#cde11d"/>
<rect x="172.38" y="205.46" width="12.21" height="9.99" fill="#cae11f"/>
<rect x="184.30" y="205.46" width="18.17" height="9.99" fill="#c8e020"/>
<rect x="202.17" y="205.46" width="12.21" height="9.99" fill="#c5e021"/>
<rect x="214.08" y="205.46" width="18.17" height="9.99" fill="#c2df23"/>
<rect x="231.95" y="205.46" width="18.17" height="9.99" fill="#c0df25"/>
<rect x="249.82" y="205.46" width="12.21" height="9.99" fill="#bddf26"/>
<rect x="261.73" y="205.46" width="18.17" height="9.99" fill="#bade28"/>
</g>
<g>
<line x1="100.91" y1="26.45" x2="100.91" y2="215.15" stroke="#ffffff" stroke-opacity="0.07" stroke-width="0.8"/>
<line x1="106.86" y1="26.45" x2="106.86" y2="215.15" stroke="#ffffff" stroke-opacity="0.13" stroke-width="0.8"/>
<line x1="112.82" y1="26.45" x2="112.82" y2="215.15" stroke="#ffffff" stroke-opacity="0.15" stroke-width="0.8"/>
<line x1="118.78" y1="26.45" x2="118.78" y2="215.15" stroke="#ffffff" stroke-opacity="0.13" stroke-width="0.8"/>
<line x1="124.73" y1="26.45" x2="124.73" y2="215.15" stroke="#ffffff" stroke-opacity="0.07" stroke-width="0.8"/>
<line x1="160.47" y1="26.45" x2="160.47" y2="215.15" stroke="#ffffff" stroke-opacity="0.07" stroke-width="0.8"/>
<line x1="166.43" y1="26.45" x2="166.43" y2="215.15" stroke="#ffffff" stroke-opacity="0.13" stroke-width="0.8"/>
<line x1="172.38" y1="26.45" x2="172.38" y2="215.15" stroke="#ffffff" stroke-opacity="0.15" stroke-width="0.8"/>
<line x1="178.34" y1="26.45" x2="178.34" y2="215.15" stroke="#ffffff" stroke-opacity="0.13" stroke-width="0.8"/>
<line x1="184.30" y1="26.45" x2="184.30" y2="215.15" stroke="#ffffff" stroke-opacity="0.07" stroke-width="0.8"/>
<line x1="220.04" y1="26.45" x2="220.04" y2="215.15" stroke="#ffffff" stroke-opacity="0.07" stroke-width="0.8"/>
<line x1="225.99" y1="26.45" x2="225.99" y2="215.15" stroke="#ffffff" stroke-opacity="0.13" stroke-width="0.8"/>
<line x1="231.95" y1="26.45" x2="231.95" y2="215.15" stroke="#ffffff" stroke-opacity="0.15" stroke-width="0.8"/>
<line x1="237.91" y1="26.45" x2="237.91" y2="215.15" stroke="#ffffff" stroke-opacity="0.13" stroke-width="0.8"/>
<line x1="243.86" y1="26.45" x2="243.86" y2="215.15" stroke="#ffffff" stroke-opacity="0.07" stroke-width="0.8"/>
<rect x="47.30" y="26.45" width="232.30" height="188.70" fill="none" stroke="#1a1a1a" stroke-width="0.8"/>
<line x1="47.60" y1="215.15" x2="47.60" y2="218.45" stroke="#1a1a1a" stroke-width="0.8"/>
<text x="47.6" y="230.8" class="tk" text-anchor="middle">0</text>
<line x1="106.70" y1="215.15" x2="106.70" y2="218.45" stroke="#1a1a1a" stroke-width="0.8"/>
<text x="106.7" y="230.8" class="tk" text-anchor="middle">1</text>
<line x1="166.20" y1="215.15" x2="166.20" y2="218.45" stroke="#1a1a1a" stroke-width="0.8"/>
<text x="166.2" y="230.8" class="tk" text-anchor="middle">2</text>
<line x1="225.70" y1="215.15" x2="225.70" y2="218.45" stroke="#1a1a1a" stroke-width="0.8"/>
<text x="225.7" y="230.8" class="tk" text-anchor="middle">3</text>
<line x1="44.00" y1="42.10" x2="47.30" y2="42.10" stroke="#1a1a1a" stroke-width="0.8"/>
<text x="40.8" y="46.6" class="tk" text-anchor="end">0.9</text>
<line x1="44.00" y1="119.30" x2="47.30" y2="119.30" stroke="#1a1a1a" stroke-width="0.8"/>
<text x="40.8" y="123.7" class="tk" text-anchor="end">0.5</text>
<line x1="44.00" y1="215.10" x2="47.30" y2="215.10" stroke="#1a1a1a" stroke-width="0.8"/>
<text x="40.8" y="219.2" class="tk" text-anchor="end">0.0</text>
<text x="167.3" y="246.6" class="dl" text-anchor="middle">&#916;</text>
<text transform="translate(12.9,116.0) rotate(-90)" class="yl" text-anchor="middle">filling fraction</text>
<text x="160.2" y="17.2" class="ta">z</text><text transform="translate(176.9,22.3) scale(1.38,1)" class="tas">t</text>
<text x="54.6" y="47.3" class="pl" style="letter-spacing:1.9px">(a)</text>
<rect x="290.3" y="26.45" width="9.3" height="188.70" fill="url(#vg)"/>
<rect x="290.3" y="26.45" width="9.3" height="188.70" fill="none" stroke="#1a1a1a" stroke-width="0.8"/>
<line x1="289.9" y1="26.45" x2="289.9" y2="215.15" stroke="#999" stroke-width="1.1"/>
<line x1="299.6" y1="26.45" x2="302.9" y2="26.45" stroke="#1a1a1a" stroke-width="0.8"/>
<text x="306.2" y="29.5" class="tk">1.0</text>
<line x1="299.6" y1="120.40" x2="302.9" y2="120.40" stroke="#1a1a1a" stroke-width="0.8"/>
<text x="306.2" y="124.0" class="tk">0.5</text>
<line x1="299.6" y1="215.15" x2="302.9" y2="215.15" stroke="#1a1a1a" stroke-width="0.8"/>
<text x="306.2" y="218.4" class="tk">0.0</text>
<line x1="530.6" y1="26.3" x2="530.6" y2="214.8" stroke="#9c9c9c" stroke-width="0.7" stroke-dasharray="2.9 2.75" stroke-dashoffset="1.9"/>
<rect x="382.87" y="26.34" width="290.38" height="188.49" fill="none" stroke="#1a1a1a" stroke-width="0.8"/>
<path d="M395.9,47.0 L399.4,47.6 L402.9,48.3 L406.4,49.0 L409.8,49.7 L413.3,50.5 L416.8,51.2 L420.3,52.0 L423.8,52.8 L427.3,53.6 L430.7,54.5 L434.2,55.3 L437.7,56.2 L441.2,57.1 L444.7,58.1 L448.2,59.0 L451.6,60.0 L455.1,61.0 L458.6,62.0 L462.1,63.0 L463.2,63.4 L464.2,63.6 L465.2,63.9 L465.6,64.1 L466.1,64.2 L467.1,64.5 L468.1,64.8 L469.0,65.1 L469.1,65.1 L470.0,65.4 L470.9,65.7 L471.9,66.0 L472.5,66.2 L472.9,66.3 L473.8,66.5 L474.8,66.8 L475.8,67.1 L476.0,67.2 L476.7,67.5 L477.7,67.8 L478.6,68.1 L479.5,68.4 L479.6,68.4 L480.6,68.7 L481.5,69.1 L482.5,69.4 L483.0,69.6 L483.5,69.8 L484.4,70.1 L485.4,70.5 L486.3,70.9 L486.5,71.0 L487.3,71.3 L488.3,71.7 L489.2,72.1 L490.0,72.4 L490.2,72.5 L491.2,73.0 L492.1,73.4 L493.1,73.8 L493.4,74.0 L494.0,74.3 L495.0,74.8 L496.0,75.2 L496.9,75.7 L497.7,76.1 L497.9,76.2 L498.6,76.5 L498.8,76.7 L499.4,77.0 L499.8,77.2 L500.2,77.4 L500.8,77.7 L501.0,77.9 L501.7,78.3 L501.8,78.3 L502.6,78.8 L502.7,78.8 L503.4,79.3 L503.7,79.4 L504.2,79.8 L504.6,80.0 L505.1,80.3 L505.6,80.6 L505.9,80.8 L506.5,81.2 L506.7,81.3 L507.5,81.9 L508.3,82.5 L508.5,82.6 L509.1,83.0 L509.4,83.2 L509.9,83.6 L510.4,84.0 L510.5,84.1 L510.7,84.2 L510.8,84.3 L510.9,84.4 L511.1,84.5 L511.2,84.6 L511.4,84.7 L511.5,84.9 L511.6,84.9 L511.6,85.0 L511.8,85.1 L511.9,85.2 L512.1,85.3 L512.2,85.5 L512.3,85.6 L512.4,85.6 L512.5,85.7 L512.6,85.9 L512.7,86.0 L512.9,86.2 L513.0,86.3 L513.2,86.5 L513.3,86.6 L513.4,86.8 L513.6,86.9 L513.7,87.1 L513.9,87.2 L514.0,87.4 L514.1,87.6 L514.3,87.8 L514.4,88.0 L514.5,88.2 L514.7,88.4 L514.8,88.6 L514.8,88.7 L515.0,88.9 L515.1,89.1 L515.2,89.4 L515.4,89.7 L515.5,89.9 L515.6,90.1 L515.7,90.2 L515.8,90.5 L515.9,90.8 L516.1,91.1 L516.2,91.4 L516.3,91.7 L516.4,91.8 L516.5,92.0 L516.6,92.3 L516.8,92.6 L516.9,92.9 L517.0,93.2 L517.2,93.5 L517.2,93.6 L517.3,93.8 L517.5,94.1 L517.6,94.4 L517.7,94.7 L517.9,94.9 L518.0,95.2 L518.1,95.3 L518.1,95.5 L518.3,95.8 L518.4,96.1 L518.6,96.3 L518.7,96.6 L518.8,96.9 L518.9,96.9 L519.0,97.1 L519.1,97.4 L519.3,97.7 L519.4,97.9 L519.5,98.2 L519.7,98.5 L519.8,98.7 L519.9,99.0 L520.1,99.3 L520.2,99.5 L520.4,99.8 L520.5,100.1 L520.6,100.3 L520.8,100.6 L520.9,100.9 L521.1,101.2 L521.2,101.4 L521.3,101.7 L521.5,102.0 L521.6,102.3 L521.7,102.6 L521.9,102.9 L522.0,103.2 L522.2,103.5 L522.3,103.8 L522.4,104.2 L522.6,104.5 L522.7,104.8 L522.9,105.2 L523.0,105.5 L523.1,105.9 L523.3,106.2 L523.4,106.6 L523.5,107.0 L523.7,107.3 L523.8,107.7 L524.0,108.1 L524.1,108.5 L524.2,108.9 L524.4,109.3 L524.5,109.7 L524.6,110.1 L524.8,110.6 L524.9,111.0 L525.1,111.4 L525.2,111.9 L525.3,112.3 L525.5,112.8 L525.6,113.2 L525.8,113.7 L525.9,114.1 L526.0,114.6 L526.2,115.1 L526.3,115.5 L526.4,116.0 L526.6,116.5 L526.7,117.0 L526.9,117.5 L527.0,118.1 L527.1,118.6 L527.3,119.2 L527.4,119.8 L527.6,120.4 L527.7,121.0 L527.8,121.6 L528.0,122.2 L528.1,122.7 L528.2,123.3 L528.4,123.9 L528.5,124.4 L528.7,125.0 L528.8,125.5 L528.9,126.0 L529.1,126.5 L529.2,126.9 L529.4,127.4 L529.5,127.8 L529.6,128.2 L529.8,128.6 L529.9,129.1 L530.0,129.5 L530.2,130.0 L530.3,130.5 L530.5,131.0 L530.6,131.6 L530.7,132.1 L530.9,132.7 L531.0,133.2 L531.2,133.8 L531.3,134.3 L531.4,134.9 L531.6,135.5 L531.7,136.1 L531.8,136.7 L532.0,137.3 L532.1,137.8 L532.3,138.4 L532.4,139.0 L532.5,139.6 L532.7,140.2 L532.8,140.8 L533.0,141.4 L533.1,142.0 L533.2,142.6 L533.4,143.2 L533.5,143.8 L533.6,144.4 L533.8,145.0 L533.9,145.6 L534.1,146.2 L534.2,146.8 L534.3,147.4 L534.5,148.0 L534.6,148.7 L534.8,149.3 L534.9,149.9 L535.0,150.5 L535.2,151.1 L535.3,151.8 L535.4,152.4 L535.6,153.0 L535.7,153.6 L535.9,154.2 L536.0,154.9 L536.1,155.5 L536.3,156.1 L536.4,156.7 L536.6,157.3 L536.7,157.9 L536.8,158.5 L537.0,159.1 L537.1,159.6 L537.2,160.2 L537.4,160.8 L537.5,161.4 L537.7,162.0 L537.8,162.6 L537.9,163.2 L538.1,163.7 L538.2,164.3 L538.3,164.9 L538.5,165.5 L538.6,166.1 L538.8,166.6 L538.9,167.2 L539.0,167.8 L539.2,168.3 L539.3,168.9 L539.5,169.4 L539.6,170.0 L539.7,170.5 L539.9,171.0 L540.0,171.5 L540.1,172.0 L540.3,172.5 L540.4,173.0 L540.6,173.5 L540.7,173.9 L540.8,174.4 L541.0,174.8 L541.1,175.3 L541.3,175.7 L541.4,176.2 L541.5,176.5 L541.5,176.6 L541.7,177.0 L541.8,177.4 L541.9,177.9 L542.1,178.3 L542.2,178.7 L542.3,179.0 L542.4,179.1 L542.5,179.5 L542.6,179.9 L542.8,180.3 L542.9,180.7 L543.1,181.1 L543.1,181.4 L543.2,181.5 L543.3,181.9 L543.5,182.3 L543.6,182.7 L543.7,183.1 L543.9,183.5 L544.0,183.7 L544.0,183.9 L544.2,184.3 L544.3,184.7 L544.4,185.1 L544.6,185.5 L544.7,185.9 L544.8,186.1 L544.9,186.3 L545.0,186.8 L545.1,187.2 L545.3,187.6 L545.4,187.9 L545.5,188.3 L545.6,188.4 L545.7,188.7 L545.8,189.1 L546.0,189.4 L546.1,189.8 L546.2,190.1 L546.4,190.5 L546.5,190.8 L546.7,191.1 L546.8,191.4 L546.9,191.7 L547.1,191.9 L547.2,192.2 L547.3,192.5 L547.5,192.8 L547.6,193.0 L547.8,193.3 L547.9,193.6 L548.0,193.8 L548.2,194.1 L548.3,194.3 L548.5,194.6 L548.6,194.8 L548.7,195.1 L548.8,195.2 L548.9,195.3 L549.0,195.5 L549.1,195.8 L549.3,196.0 L549.4,196.2 L549.6,196.4 L549.6,196.5 L549.7,196.6 L549.8,196.8 L550.0,197.0 L550.1,197.2 L550.3,197.4 L550.4,197.6 L550.5,197.7 L550.5,197.8 L550.7,198.0 L550.8,198.2 L551.3,198.8 L551.8,199.4 L552.1,199.8 L552.7,200.6 L552.9,200.8 L553.7,201.6 L553.7,201.7 L554.5,202.5 L554.7,202.6 L555.3,203.3 L555.6,203.5 L556.1,204.0 L556.6,204.4 L557.0,204.8 L557.5,205.3 L557.8,205.5 L558.5,206.1 L558.6,206.1 L559.4,206.8 L559.5,206.8 L560.2,207.3 L560.4,207.5 L561.0,207.9 L561.4,208.1 L561.8,208.4 L562.4,208.6 L562.6,208.8 L563.3,209.2 L563.5,209.3 L564.3,209.7 L565.2,210.2 L566.2,210.6 L567.2,211.0 L568.1,211.4 L569.1,211.7 L570.0,212.0 L571.0,212.1 L572.0,212.3 L572.9,212.5 L573.9,212.6 L574.9,212.7 L575.8,212.9 L576.8,213.0 L577.7,213.1 L578.7,213.1 L579.7,213.2 L580.6,213.3 L581.6,213.4 L582.6,213.4 L583.5,213.5 L584.5,213.6 L585.4,213.6 L586.4,213.7 L587.4,213.7 L588.3,213.8 L589.3,213.8 L590.3,213.8 L591.2,213.9 L592.2,213.9 L593.1,213.9 L594.1,213.9 L595.1,213.9 L596.0,214.0 L597.0,214.0 L598.0,214.0 L604.1,214.1 L610.2,214.1 L616.3,214.1 L622.4,214.1 L628.6,214.1 L634.7,214.1 L640.8,214.1 L646.9,214.1 L653.1,214.1 L659.2,214.1" fill="none" stroke="#1f77b4" stroke-width="1.7" stroke-linejoin="round" stroke-linecap="square"/>
<path d="M395.9,47.0 L399.4,47.6 L402.9,48.3 L406.4,49.0 L409.8,49.7 L413.3,50.5 L416.8,51.2 L420.3,52.0 L423.8,52.8 L427.3,53.6 L430.7,54.5 L434.2,55.3 L437.7,56.2 L441.2,57.1 L444.7,58.1 L448.2,59.0 L451.6,60.0 L455.1,61.0 L458.6,62.0 L462.1,63.0 L463.2,63.4 L464.2,63.7 L465.2,63.9 L465.6,64.1 L466.1,64.2 L467.1,64.5 L468.1,64.8 L469.0,65.1 L469.1,65.1 L470.0,65.4 L470.9,65.7 L471.9,66.0 L472.5,66.1 L472.9,66.2 L473.8,66.5 L474.8,66.8 L475.8,67.1 L476.0,67.2 L476.7,67.4 L477.7,67.7 L478.6,68.1 L479.5,68.3 L479.6,68.4 L480.6,68.7 L481.5,69.0 L482.5,69.4 L483.0,69.5 L483.5,69.7 L484.4,70.1 L485.4,70.4 L486.3,70.8 L486.5,70.8 L487.3,71.2 L488.3,71.5 L489.2,71.9 L490.0,72.2 L490.2,72.3 L491.2,72.7 L492.1,73.1 L493.1,73.5 L493.4,73.7 L494.0,74.0 L495.0,74.4 L496.0,74.8 L496.9,75.3 L497.7,75.7 L497.9,75.7 L498.6,76.1 L498.8,76.2 L499.4,76.4 L499.8,76.7 L500.2,76.8 L500.8,77.1 L501.0,77.3 L501.7,77.6 L501.8,77.7 L502.6,78.1 L502.7,78.1 L503.4,78.5 L503.7,78.7 L504.2,79.0 L504.6,79.2 L505.1,79.4 L505.6,79.7 L505.9,79.9 L506.5,80.3 L506.7,80.4 L507.5,80.9 L508.3,81.4 L508.5,81.5 L509.1,81.9 L509.4,82.1 L509.9,82.5 L510.4,82.8 L510.5,82.9 L510.7,83.0 L510.8,83.1 L510.9,83.2 L511.1,83.3 L511.2,83.4 L511.4,83.5 L511.5,83.6 L511.6,83.6 L511.6,83.7 L511.8,83.8 L511.9,83.9 L512.1,84.0 L512.2,84.1 L512.3,84.2 L512.4,84.2 L512.5,84.3 L512.6,84.4 L512.7,84.5 L512.9,84.6 L513.0,84.7 L513.2,84.8 L513.3,84.9 L513.4,85.1 L513.6,85.2 L513.7,85.3 L513.9,85.4 L514.0,85.5 L514.1,85.6 L514.3,85.8 L514.4,85.9 L514.5,86.0 L514.7,86.1 L514.8,86.2 L515.0,86.4 L515.1,86.5 L515.2,86.6 L515.4,86.7 L515.5,86.9 L515.6,87.0 L515.7,87.0 L515.8,87.1 L515.9,87.3 L516.1,87.4 L516.2,87.5 L516.3,87.7 L516.4,87.8 L516.5,87.8 L516.6,88.0 L516.8,88.1 L516.9,88.3 L517.0,88.4 L517.2,88.6 L517.2,88.7 L517.3,88.7 L517.5,88.9 L517.6,89.1 L517.7,89.2 L517.9,89.4 L518.0,89.6 L518.1,89.6 L518.1,89.7 L518.3,89.9 L518.4,90.1 L518.6,90.3 L518.7,90.5 L518.8,90.6 L518.9,90.7 L519.0,90.8 L519.1,91.0 L519.3,91.2 L519.4,91.4 L519.5,91.6 L519.7,91.8 L519.8,92.0 L519.9,92.2 L520.1,92.4 L520.2,92.6 L520.4,92.8 L520.5,93.1 L520.6,93.3 L520.8,93.5 L520.9,93.7 L521.1,94.0 L521.2,94.2 L521.3,94.4 L521.5,94.7 L521.6,94.9 L521.7,95.1 L521.9,95.4 L522.0,95.6 L522.2,95.9 L522.3,96.1 L522.4,96.4 L522.6,96.6 L522.7,96.9 L522.9,97.1 L523.0,97.4 L523.1,97.6 L523.3,97.9 L523.4,98.2 L523.5,98.5 L523.7,98.7 L523.8,99.0 L524.0,99.3 L524.1,99.7 L524.2,100.0 L524.4,100.3 L524.5,100.7 L524.6,101.0 L524.8,101.4 L524.9,101.8 L525.1,102.2 L525.2,102.6 L525.3,103.1 L525.5,103.6 L525.6,104.1 L525.8,104.6 L525.9,105.1 L526.0,105.7 L526.2,106.3 L526.3,106.8 L526.4,107.5 L526.6,108.1 L526.7,108.7 L526.9,109.4 L527.0,110.1 L527.1,110.9 L527.3,111.6 L527.4,112.5 L527.6,113.3 L527.7,114.1 L527.8,115.0 L528.0,115.9 L528.1,116.8 L528.2,117.8 L528.4,118.8 L528.5,119.8 L528.7,120.9 L528.8,122.1 L528.9,123.2 L529.1,124.3 L529.2,125.4 L529.4,126.4 L529.5,127.3 L529.6,128.2 L529.8,129.1 L529.9,130.1 L530.0,131.1 L530.2,132.1 L530.3,133.2 L530.5,134.2 L530.6,135.3 L530.7,136.4 L530.9,137.5 L531.0,138.6 L531.2,139.7 L531.3,140.9 L531.4,142.1 L531.6,143.3 L531.7,144.6 L531.8,145.9 L532.0,147.2 L532.1,148.5 L532.3,149.8 L532.4,151.1 L532.5,152.4 L532.7,153.7 L532.8,155.0 L533.0,156.3 L533.1,157.5 L533.2,158.7 L533.4,159.8 L533.5,160.8 L533.6,161.9 L533.8,162.9 L533.9,163.8 L534.1,164.8 L534.2,165.7 L534.3,166.6 L534.5,167.5 L534.6,168.4 L534.8,169.3 L534.9,170.1 L535.0,171.0 L535.2,171.9 L535.3,172.8 L535.4,173.7 L535.6,174.5 L535.7,175.4 L535.9,176.3 L536.0,177.2 L536.1,178.0 L536.3,178.9 L536.4,179.7 L536.6,180.6 L536.7,181.4 L536.8,182.2 L537.0,183.0 L537.1,183.9 L537.2,184.7 L537.4,185.5 L537.5,186.4 L537.7,187.2 L537.8,188.0 L537.9,188.7 L538.1,189.4 L538.2,190.1 L538.3,190.8 L538.5,191.3 L538.6,191.9 L538.8,192.4 L538.9,193.0 L539.0,193.5 L539.2,194.0 L539.3,194.4 L539.5,194.9 L539.6,195.3 L539.7,195.8 L539.9,196.2 L540.0,196.6 L540.1,197.0 L540.3,197.5 L540.4,197.9 L540.6,198.3 L540.7,198.6 L540.8,199.0 L541.0,199.4 L541.1,199.8 L541.3,200.2 L541.4,200.5 L541.5,200.8 L541.5,200.9 L541.7,201.2 L541.8,201.6 L541.9,201.9 L542.1,202.2 L542.2,202.5 L542.3,202.8 L542.4,202.8 L542.5,203.1 L542.6,203.4 L542.8,203.7 L542.9,204.0 L543.1,204.3 L543.1,204.5 L543.2,204.6 L543.3,204.8 L543.5,205.1 L543.6,205.3 L543.7,205.6 L543.9,205.8 L544.0,205.9 L544.0,206.0 L544.2,206.3 L544.3,206.5 L544.4,206.7 L544.6,206.9 L544.7,207.1 L544.8,207.2 L544.9,207.3 L545.0,207.5 L545.1,207.7 L545.3,207.9 L545.4,208.0 L545.5,208.2 L545.6,208.3 L545.7,208.4 L545.8,208.5 L546.0,208.7 L546.1,208.9 L546.2,209.0 L546.4,209.2 L546.5,209.3 L546.7,209.4 L546.8,209.6 L546.9,209.7 L547.1,209.9 L547.2,210.0 L547.3,210.1 L547.5,210.2 L547.6,210.4 L547.8,210.5 L547.9,210.6 L548.0,210.7 L548.2,210.8 L548.3,210.9 L548.5,211.0 L548.6,211.1 L548.7,211.2 L548.8,211.3 L548.9,211.3 L549.0,211.4 L549.1,211.5 L549.3,211.6 L549.4,211.7 L549.6,211.8 L549.7,211.9 L549.8,211.9 L550.0,212.0 L550.1,212.1 L550.3,212.1 L550.4,212.2 L550.5,212.2 L550.7,212.3 L550.8,212.3 L551.3,212.5 L551.8,212.7 L552.1,212.8 L552.7,212.9 L552.9,213.0 L553.7,213.1 L554.5,213.3 L554.7,213.3 L555.3,213.4 L555.6,213.4 L556.1,213.5 L556.6,213.6 L557.0,213.6 L557.5,213.7 L557.8,213.7 L558.5,213.8 L558.6,213.8 L559.4,213.8 L559.5,213.8 L560.2,213.9 L560.4,213.9 L561.0,213.9 L561.4,213.9 L561.8,214.0 L562.4,214.0 L562.6,214.0 L563.3,214.0 L563.5,214.0 L564.3,214.0 L565.2,214.1 L566.2,214.1 L567.2,214.1 L568.1,214.1 L569.1,214.1 L570.0,214.1 L571.0,214.1 L572.0,214.1 L572.9,214.1 L573.9,214.1 L574.9,214.1 L575.8,214.1 L576.8,214.1 L577.7,214.1 L578.7,214.1 L579.7,214.1 L580.6,214.1 L581.6,214.1 L582.6,214.1 L583.5,214.1 L584.5,214.1 L585.4,214.1 L586.4,214.1 L587.4,214.1 L588.3,214.1 L589.3,214.1 L590.3,214.1 L591.2,214.1 L592.2,214.1 L593.1,214.1 L594.1,214.1 L595.1,214.1 L596.0,214.1 L597.0,214.1 L598.0,214.1 L604.1,214.1 L610.2,214.1 L616.3,214.1 L622.4,214.1 L628.6,214.1 L634.7,214.1 L640.8,214.1 L646.9,214.1 L653.1,214.1 L659.2,214.1" fill="none" stroke="#ff7f0e" stroke-width="1.7" stroke-linejoin="round" stroke-linecap="square"/>
<path d="M395.9,47.0 L399.4,47.6 L402.9,48.3 L406.4,49.0 L409.8,49.7 L413.3,50.5 L416.8,51.2 L420.3,52.0 L423.8,52.8 L427.3,53.6 L430.7,54.5 L434.2,55.3 L437.7,56.2 L441.2,57.1 L444.7,58.1 L448.2,59.0 L451.6,60.0 L455.1,61.0 L458.6,62.0 L462.1,63.0 L463.2,63.4 L464.2,63.7 L465.2,63.9 L465.6,64.1 L466.1,64.2 L467.1,64.5 L468.1,64.8 L469.0,65.1 L469.1,65.1 L470.0,65.4 L470.9,65.7 L471.9,66.0 L472.5,66.1 L472.9,66.2 L473.8,66.5 L474.8,66.8 L475.8,67.1 L476.0,67.2 L476.7,67.4 L477.7,67.7 L478.6,68.0 L479.5,68.3 L479.6,68.4 L480.6,68.7 L481.5,69.0 L482.5,69.3 L483.0,69.5 L483.5,69.7 L484.4,70.0 L485.4,70.4 L486.3,70.7 L486.5,70.8 L487.3,71.1 L488.3,71.5 L489.2,71.9 L490.0,72.2 L490.2,72.3 L491.2,72.6 L492.1,73.0 L493.1,73.5 L493.4,73.6 L494.0,73.9 L495.0,74.3 L496.0,74.7 L496.9,75.2 L497.7,75.5 L497.9,75.6 L498.6,75.9 L498.8,76.0 L499.4,76.3 L499.8,76.5 L500.2,76.7 L500.8,77.0 L501.0,77.1 L501.7,77.4 L501.8,77.5 L502.6,77.9 L502.7,77.9 L503.4,78.3 L503.7,78.4 L504.2,78.7 L504.6,78.9 L505.1,79.2 L505.6,79.5 L505.9,79.6 L506.5,80.0 L506.7,80.1 L507.5,80.6 L508.3,81.1 L508.5,81.2 L509.1,81.6 L509.4,81.8 L509.9,82.1 L510.4,82.4 L510.5,82.5 L510.7,82.6 L510.8,82.7 L510.9,82.8 L511.1,82.9 L511.2,83.0 L511.4,83.1 L511.5,83.2 L511.6,83.2 L511.6,83.3 L511.8,83.4 L511.9,83.5 L512.1,83.6 L512.2,83.7 L512.3,83.8 L512.4,83.8 L512.5,83.9 L512.6,84.0 L512.7,84.1 L512.9,84.2 L513.0,84.3 L513.2,84.4 L513.3,84.5 L513.4,84.6 L513.6,84.7 L513.7,84.8 L513.9,84.9 L514.0,85.0 L514.1,85.2 L514.3,85.3 L514.4,85.4 L514.5,85.5 L514.7,85.6 L514.8,85.7 L515.0,85.8 L515.1,85.9 L515.2,86.1 L515.4,86.2 L515.5,86.3 L515.6,86.4 L515.7,86.4 L515.8,86.5 L515.9,86.7 L516.1,86.8 L516.2,86.9 L516.3,87.0 L516.4,87.1 L516.5,87.1 L516.6,87.3 L516.8,87.4 L516.9,87.5 L517.0,87.7 L517.2,87.8 L517.2,87.9 L517.3,87.9 L517.5,88.1 L517.6,88.2 L517.7,88.3 L517.9,88.5 L518.0,88.6 L518.1,88.7 L518.1,88.8 L518.3,88.9 L518.4,89.1 L518.6,89.2 L518.7,89.3 L518.8,89.5 L518.9,89.5 L519.0,89.7 L519.1,89.8 L519.3,90.0 L519.4,90.1 L519.5,90.3 L519.7,90.4 L519.7,90.5 L519.8,90.6 L519.9,90.8 L520.1,90.9 L520.2,91.1 L520.4,91.3 L520.5,91.5 L520.6,91.6 L520.8,91.8 L520.9,92.0 L521.1,92.2 L521.2,92.4 L521.3,92.6 L521.5,92.8 L521.6,93.0 L521.7,93.2 L521.9,93.4 L522.0,93.6 L522.2,93.8 L522.3,94.0 L522.4,94.2 L522.6,94.4 L522.7,94.7 L522.9,94.9 L523.0,95.1 L523.1,95.3 L523.3,95.6 L523.4,95.8 L523.5,96.1 L523.7,96.3 L523.8,96.5 L524.0,96.8 L524.1,97.0 L524.2,97.3 L524.4,97.5 L524.5,97.8 L524.6,98.1 L524.8,98.4 L524.9,98.6 L525.1,99.0 L525.2,99.3 L525.3,99.6 L525.5,99.9 L525.6,100.3 L525.8,100.7 L525.9,101.1 L526.0,101.5 L526.2,102.0 L526.3,102.5 L526.4,103.0 L526.6,103.6 L526.7,104.2 L526.9,104.9 L527.0,105.6 L527.1,106.3 L527.3,107.0 L527.4,107.8 L527.6,108.6 L527.7,109.5 L527.8,110.4 L528.0,111.5 L528.1,112.6 L528.2,113.7 L528.4,114.9 L528.5,116.2 L528.7,117.5 L528.8,118.9 L528.9,120.4 L529.1,122.0 L529.2,123.7 L529.4,125.3 L529.5,126.9 L529.6,128.3 L529.8,129.7 L529.9,131.2 L530.0,132.6 L530.2,134.1 L530.3,135.6 L530.5,137.1 L530.6,138.7 L530.7,140.4 L530.9,142.2 L531.0,144.1 L531.2,146.2 L531.3,148.3 L531.4,150.4 L531.6,152.5 L531.7,154.5 L531.8,156.5 L532.0,158.3 L532.1,159.9 L532.3,161.3 L532.4,162.6 L532.5,163.9 L532.7,165.1 L532.8,166.2 L533.0,167.3 L533.1,168.4 L533.2,169.5 L533.4,170.6 L533.5,171.8 L533.6,173.0 L533.8,174.3 L533.9,175.6 L534.1,176.9 L534.2,178.2 L534.3,179.5 L534.5,180.8 L534.6,182.1 L534.8,183.4 L534.9,184.7 L535.0,186.0 L535.2,187.2 L535.3,188.4 L535.4,189.5 L535.6,190.4 L535.7,191.3 L535.9,192.1 L536.0,192.9 L536.1,193.6 L536.3,194.3 L536.4,195.0 L536.6,195.6 L536.7,196.2 L536.8,196.8 L537.0,197.5 L537.1,198.1 L537.2,198.7 L537.4,199.4 L537.5,200.0 L537.7,200.6 L537.8,201.2 L537.9,201.8 L538.1,202.4 L538.2,202.9 L538.3,203.5 L538.5,203.9 L538.6,204.4 L538.8,204.8 L538.9,205.2 L539.0,205.6 L539.2,206.0 L539.3,206.3 L539.5,206.6 L539.6,207.0 L539.7,207.3 L539.9,207.6 L540.0,207.9 L540.1,208.1 L540.3,208.4 L540.4,208.6 L540.6,208.9 L540.7,209.1 L540.8,209.3 L541.0,209.5 L541.1,209.7 L541.3,209.9 L541.4,210.1 L541.5,210.2 L541.7,210.4 L541.8,210.6 L541.9,210.7 L542.1,210.9 L542.2,211.0 L542.3,211.2 L542.4,211.2 L542.5,211.3 L542.6,211.5 L542.8,211.6 L542.9,211.7 L543.1,211.9 L543.2,212.0 L543.3,212.1 L543.5,212.2 L543.6,212.3 L543.7,212.4 L543.9,212.4 L544.0,212.5 L544.2,212.6 L544.3,212.7 L544.4,212.7 L544.6,212.8 L544.7,212.9 L544.8,212.9 L544.9,212.9 L545.0,213.0 L545.1,213.0 L545.3,213.1 L545.4,213.1 L545.5,213.2 L545.6,213.2 L545.7,213.2 L545.8,213.3 L546.0,213.3 L546.1,213.3 L546.2,213.3 L546.4,213.4 L546.5,213.4 L546.7,213.4 L546.8,213.5 L546.9,213.5 L547.1,213.5 L547.2,213.5 L547.3,213.6 L547.5,213.6 L547.6,213.6 L547.8,213.6 L547.9,213.7 L548.0,213.7 L548.2,213.7 L548.3,213.7 L548.5,213.8 L548.6,213.8 L548.7,213.8 L548.8,213.8 L548.9,213.8 L549.0,213.8 L549.1,213.8 L549.3,213.9 L549.4,213.9 L549.6,213.9 L549.7,213.9 L549.8,213.9 L550.0,213.9 L550.1,213.9 L550.3,214.0 L550.4,214.0 L550.5,214.0 L550.7,214.0 L550.8,214.0 L551.3,214.0 L551.8,214.1 L552.1,214.1 L552.7,214.1 L552.9,214.1 L553.7,214.1 L554.5,214.1 L554.7,214.1 L555.3,214.1 L555.6,214.1 L556.1,214.1 L556.6,214.1 L557.0,214.1 L557.5,214.1 L557.8,214.1 L558.5,214.1 L558.6,214.1 L559.4,214.1 L559.5,214.1 L560.2,214.1 L560.4,214.1 L561.0,214.1 L561.4,214.1 L561.8,214.1 L562.4,214.1 L562.6,214.1 L563.3,214.1 L563.5,214.1 L564.3,214.1 L565.2,214.1 L566.2,214.1 L567.2,214.1 L568.1,214.1 L569.1,214.1 L570.0,214.1 L571.0,214.1 L572.0,214.1 L572.9,214.1 L573.9,214.1 L574.9,214.1 L575.8,214.1 L576.8,214.1 L577.7,214.1 L578.7,214.1 L579.7,214.1 L580.6,214.1 L581.6,214.1 L582.6,214.1 L583.5,214.1 L584.5,214.1 L585.4,214.1 L586.4,214.1 L587.4,214.1 L588.3,214.1 L589.3,214.1 L590.3,214.1 L591.2,214.1 L592.2,214.1 L593.1,214.1 L594.1,214.1 L595.1,214.1 L596.0,214.1 L597.0,214.1 L598.0,214.1 L604.1,214.1 L610.2,214.1 L616.3,214.1 L622.4,214.1 L628.6,214.1 L634.7,214.1 L640.8,214.1 L646.9,214.1 L653.1,214.1 L659.2,214.1" fill="none" stroke="#2ca02c" stroke-width="1.7" stroke-linejoin="round" stroke-linecap="square"/>
<path d="M395.9,47.0 L399.4,47.6 L402.9,48.3 L406.4,49.0 L409.8,49.7 L413.3,50.5 L416.8,51.2 L420.3,52.0 L423.8,52.8 L427.3,53.6 L430.7,54.5 L434.2,55.3 L437.7,56.2 L441.2,57.1 L444.7,58.1 L448.2,59.0 L451.6,60.0 L455.1,61.0 L458.6,62.0 L462.1,63.0 L463.2,63.4 L464.2,63.7 L465.2,63.9 L465.6,64.1 L466.1,64.2 L467.1,64.5 L468.1,64.8 L469.0,65.1 L469.1,65.1 L470.0,65.4 L470.9,65.7 L471.9,66.0 L472.5,66.1 L472.9,66.2 L473.8,66.5 L474.8,66.8 L475.8,67.1 L476.0,67.2 L476.7,67.4 L477.7,67.7 L478.6,68.0 L479.5,68.3 L479.6,68.4 L480.6,68.7 L481.5,69.0 L482.5,69.3 L483.0,69.5 L483.5,69.7 L484.4,70.0 L485.4,70.4 L486.3,70.7 L486.5,70.8 L487.3,71.1 L488.3,71.5 L489.2,71.8 L490.0,72.1 L490.2,72.2 L491.2,72.6 L492.1,73.0 L493.1,73.4 L493.4,73.6 L494.0,73.8 L495.0,74.2 L496.0,74.7 L496.9,75.1 L497.7,75.5 L497.9,75.5 L498.6,75.8 L498.8,76.0 L499.4,76.2 L499.8,76.4 L500.2,76.6 L500.8,76.9 L501.0,77.0 L501.7,77.3 L501.8,77.4 L502.6,77.8 L502.7,77.8 L503.4,78.2 L503.7,78.3 L504.2,78.6 L504.6,78.8 L505.1,79.1 L505.6,79.3 L505.9,79.5 L506.5,79.9 L506.7,80.0 L507.5,80.4 L508.3,80.9 L508.5,81.0 L509.1,81.4 L509.4,81.6 L509.9,81.9 L510.4,82.2 L510.5,82.3 L510.7,82.4 L510.7,82.5 L510.8,82.5 L510.9,82.6 L511.1,82.7 L511.2,82.8 L511.4,82.9 L511.5,83.0 L511.6,83.0 L511.6,83.1 L511.8,83.2 L511.9,83.3 L512.1,83.4 L512.2,83.5 L512.3,83.6 L512.4,83.6 L512.5,83.7 L512.6,83.8 L512.7,83.9 L512.9,84.0 L513.0,84.1 L513.2,84.2 L513.3,84.3 L513.4,84.4 L513.6,84.5 L513.7,84.6 L513.9,84.7 L514.0,84.8 L514.1,84.9 L514.3,85.0 L514.4,85.1 L514.5,85.3 L514.7,85.4 L514.8,85.5 L515.0,85.6 L515.1,85.7 L515.2,85.8 L515.4,85.9 L515.5,86.0 L515.6,86.1 L515.7,86.2 L515.8,86.3 L515.9,86.4 L516.1,86.5 L516.2,86.6 L516.3,86.7 L516.4,86.8 L516.5,86.9 L516.6,87.0 L516.8,87.1 L516.9,87.2 L517.0,87.3 L517.2,87.5 L517.3,87.6 L517.5,87.7 L517.6,87.8 L517.7,88.0 L517.9,88.1 L518.0,88.2 L518.1,88.3 L518.1,88.4 L518.3,88.5 L518.4,88.6 L518.6,88.8 L518.7,88.9 L518.8,89.0 L518.9,89.1 L519.0,89.2 L519.1,89.3 L519.3,89.5 L519.4,89.6 L519.5,89.8 L519.7,89.9 L519.8,90.1 L519.9,90.2 L520.1,90.4 L520.2,90.5 L520.4,90.7 L520.5,90.8 L520.6,91.0 L520.8,91.2 L520.9,91.3 L521.1,91.5 L521.2,91.7 L521.3,91.8 L521.5,92.0 L521.6,92.2 L521.7,92.4 L521.9,92.5 L522.0,92.7 L522.2,92.9 L522.3,93.1 L522.4,93.3 L522.6,93.5 L522.7,93.7 L522.9,93.9 L523.0,94.1 L523.1,94.3 L523.3,94.6 L523.4,94.8 L523.5,95.0 L523.7,95.2 L523.8,95.4 L524.0,95.7 L524.1,95.9 L524.2,96.1 L524.4,96.4 L524.5,96.6 L524.6,96.9 L524.8,97.1 L524.9,97.4 L525.1,97.6 L525.2,97.9 L525.3,98.2 L525.5,98.4 L525.6,98.7 L525.8,99.1 L525.9,99.4 L526.0,99.7 L526.2,100.1 L526.3,100.5 L526.4,100.9 L526.6,101.4 L526.7,101.9 L526.9,102.4 L527.0,103.0 L527.1,103.6 L527.3,104.3 L527.4,105.1 L527.6,105.9 L527.7,106.7 L527.8,107.6 L528.0,108.5 L528.1,109.5 L528.2,110.7 L528.4,112.0 L528.5,113.4 L528.7,114.9 L528.8,116.5 L528.9,118.1 L529.1,119.9 L529.2,121.9 L529.4,124.1 L529.5,126.3 L529.6,128.3 L529.8,130.3 L529.9,132.1 L530.0,134.0 L530.2,135.9 L530.3,137.8 L530.5,140.0 L530.6,142.3 L530.7,145.1 L530.9,148.0 L531.0,151.1 L531.2,154.0 L531.3,156.7 L531.4,159.0 L531.6,160.8 L531.7,162.5 L531.8,163.9 L532.0,165.3 L532.1,166.6 L532.3,167.8 L532.4,169.1 L532.5,170.3 L532.7,171.7 L532.8,173.2 L533.0,174.8 L533.1,176.6 L533.2,178.4 L533.4,180.2 L533.5,182.0 L533.6,183.8 L533.8,185.6 L533.9,187.2 L534.1,188.7 L534.2,190.1 L534.3,191.3 L534.5,192.4 L534.6,193.3 L534.8,194.2 L534.9,195.0 L535.0,195.8 L535.2,196.6 L535.3,197.5 L535.4,198.4 L535.6,199.3 L535.7,200.3 L535.9,201.3 L536.0,202.2 L536.1,203.1 L536.3,203.9 L536.4,204.6 L536.6,205.1 L536.7,205.6 L536.8,206.1 L537.0,206.6 L537.1,207.0 L537.2,207.4 L537.4,207.8 L537.5,208.2 L537.7,208.5 L537.8,208.9 L537.9,209.2 L538.1,209.4 L538.2,209.7 L538.3,209.9 L538.5,210.2 L538.6,210.4 L538.8,210.6 L538.9,210.8 L539.0,211.0 L539.2,211.2 L539.3,211.3 L539.5,211.5 L539.6,211.7 L539.7,211.9 L539.9,212.0 L540.0,212.2 L540.1,212.3 L540.3,212.4 L540.4,212.6 L540.6,212.7 L540.7,212.8 L540.8,212.9 L541.0,213.0 L541.1,213.1 L541.3,213.1 L541.4,213.2 L541.5,213.2 L541.7,213.3 L541.8,213.3 L541.9,213.4 L542.1,213.4 L542.2,213.4 L542.3,213.5 L542.4,213.5 L542.5,213.5 L542.6,213.6 L542.8,213.6 L542.9,213.6 L543.1,213.7 L543.2,213.7 L543.3,213.7 L543.5,213.7 L543.6,213.8 L543.7,213.8 L543.9,213.8 L544.0,213.8 L544.0,213.9 L544.2,213.9 L544.3,213.9 L544.4,213.9 L544.6,214.0 L544.7,214.0 L544.8,214.0 L544.9,214.0 L545.0,214.0 L545.1,214.0 L545.3,214.1 L545.4,214.1 L545.5,214.1 L545.6,214.1 L545.7,214.1 L545.8,214.1 L546.0,214.1 L546.1,214.1 L546.2,214.1 L546.4,214.1 L546.5,214.1 L546.7,214.1 L546.8,214.1 L546.9,214.1 L547.1,214.1 L547.2,214.1 L547.3,214.1 L547.5,214.1 L547.6,214.1 L547.8,214.1 L547.9,214.1 L548.0,214.1 L548.2,214.1 L548.3,214.1 L548.5,214.1 L548.6,214.1 L548.7,214.1 L548.8,214.1 L548.9,214.1 L549.0,214.1 L549.1,214.1 L549.3,214.1 L549.4,214.1 L549.6,214.1 L549.7,214.1 L549.8,214.1 L550.0,214.1 L550.1,214.1 L550.3,214.1 L550.4,214.1 L550.5,214.1 L550.7,214.1 L550.8,214.1 L551.3,214.1 L551.8,214.1 L552.1,214.1 L552.7,214.1 L552.9,214.1 L553.7,214.1 L554.5,214.1 L554.7,214.1 L555.3,214.1 L555.6,214.1 L556.1,214.1 L556.6,214.1 L557.0,214.1 L557.5,214.1 L557.8,214.1 L558.5,214.1 L558.6,214.1 L559.4,214.1 L559.5,214.1 L560.2,214.1 L560.4,214.1 L561.0,214.1 L561.4,214.1 L561.8,214.1 L562.4,214.1 L562.6,214.1 L563.3,214.1 L563.5,214.1 L564.3,214.1 L565.2,214.1 L566.2,214.1 L567.2,214.1 L568.1,214.1 L569.1,214.1 L570.0,214.1 L571.0,214.1 L572.0,214.1 L572.9,214.1 L573.9,214.1 L574.9,214.1 L575.8,214.1 L576.8,214.1 L577.7,214.1 L578.7,214.1 L579.7,214.1 L580.6,214.1 L581.6,214.1 L582.6,214.1 L583.5,214.1 L584.5,214.1 L585.4,214.1 L586.4,214.1 L587.4,214.1 L588.3,214.1 L589.3,214.1 L590.3,214.1 L591.2,214.1 L592.2,214.1 L593.1,214.1 L594.1,214.1 L595.1,214.1 L596.0,214.1 L597.0,214.1 L598.0,214.1 L604.1,214.1 L610.2,214.1 L616.3,214.1 L622.4,214.1 L628.6,214.1 L634.7,214.1 L640.8,214.1 L646.9,214.1 L653.1,214.1 L659.2,214.1" fill="none" stroke="#d62728" stroke-width="1.7" stroke-linejoin="round" stroke-linecap="square"/>
<line x1="395.90" y1="214.83" x2="395.90" y2="218.13" stroke="#1a1a1a" stroke-width="0.8"/>
<text x="397.4" y="230.8" class="tk" text-anchor="middle">1.8</text>
<line x1="530.60" y1="214.83" x2="530.60" y2="218.13" stroke="#1a1a1a" stroke-width="0.8"/>
<text x="530.9" y="230.8" class="tk" text-anchor="middle">2.0</text>
<line x1="665.30" y1="214.83" x2="665.30" y2="218.13" stroke="#1a1a1a" stroke-width="0.8"/>
<text x="665.6" y="230.8" class="tk" text-anchor="middle">2.2</text>
<line x1="379.57" y1="26.34" x2="382.87" y2="26.34" stroke="#1a1a1a" stroke-width="0.8"/>
<text x="378.6" y="31.3" class="tk" text-anchor="end">0.8</text>
<line x1="379.57" y1="120.10" x2="382.87" y2="120.10" stroke="#1a1a1a" stroke-width="0.8"/>
<text x="378.6" y="124.0" class="tk" text-anchor="end">0.4</text>
<line x1="379.57" y1="214.00" x2="382.87" y2="214.00" stroke="#1a1a1a" stroke-width="0.8"/>
<text x="378.6" y="218.8" class="tk" text-anchor="end">0.0</text>
<text y="19.9" class="tt"><tspan x="435.3">Continuum</tspan><tspan x="513.9" style="letter-spacing:0.5px">limit</tspan><tspan x="548.9" style="letter-spacing:0.15px">for</tspan><tspan x="571.9">z</tspan></text><text x="579.2" y="22.8" class="tts">t</text>
<text x="410.4" y="45.5" class="pl" style="letter-spacing:2.3px">(b)</text>
<text x="517.7" y="247.4" class="xl">&#916;/c</text><text x="543.6" y="241.2" class="xls">2</text>
<g transform="translate(368.2,88.9) rotate(-90)"><text x="0" y="0" class="yz">z</text><text transform="translate(12.3,3.8) scale(1.45,1)" class="yzs">t</text></g>
<rect x="593.2" y="31.3" width="74.9" height="82.1" rx="2.2" ry="2.2" fill="#fff" fill-opacity="0.8" stroke="#cccccc" stroke-width="1"/>
<line x1="597.4" y1="41.8" x2="626.5" y2="41.8" stroke="#1f77b4" stroke-width="2"/>
<text x="635.6" y="46.6" class="lg">c=1</text>
<line x1="597.4" y1="61.4" x2="626.5" y2="61.4" stroke="#ff7f0e" stroke-width="2"/>
<text x="635.6" y="66.2" class="lg">c=2</text>
<line x1="597.4" y1="81.1" x2="626.5" y2="81.1" stroke="#2ca02c" stroke-width="2"/>
<text x="635.6" y="85.9" class="lg">c=3</text>
<line x1="597.4" y1="100.7" x2="626.5" y2="100.7" stroke="#d62728" stroke-width="2"/>
<text x="635.6" y="105.5" class="lg">c=4</text>

<line x1="851.2" y1="26.3" x2="851.2" y2="214.8" stroke="#9c9c9c" stroke-width="0.7" stroke-dasharray="2.9 2.75" stroke-dashoffset="1.9"/>
<rect x="703.60" y="26.34" width="290.10" height="188.49" fill="none" stroke="#1a1a1a" stroke-width="0.8"/>
<path d="M716.6,214.1 L720.1,214.1 L723.6,214.1 L727.1,214.1 L730.5,214.1 L734.0,214.1 L737.5,214.1 L741.0,214.1 L744.5,214.1 L748.0,214.1 L751.4,214.1 L754.9,214.1 L758.4,214.1 L761.9,214.1 L765.4,214.1 L768.9,214.1 L772.3,214.1 L775.8,214.1 L779.3,214.0 L782.8,214.0 L783.9,214.0 L784.9,214.0 L785.9,214.0 L786.3,214.0 L786.8,213.9 L787.8,213.9 L788.8,213.9 L789.7,213.9 L789.8,213.9 L790.7,213.9 L791.6,213.8 L792.6,213.8 L793.2,213.8 L793.6,213.8 L794.5,213.7 L795.5,213.7 L796.5,213.6 L796.7,213.6 L797.4,213.6 L798.4,213.5 L799.3,213.4 L800.2,213.4 L800.3,213.4 L801.3,213.3 L802.2,213.2 L803.2,213.1 L803.7,213.1 L804.2,213.1 L805.1,213.0 L806.1,212.9 L807.0,212.7 L807.2,212.7 L808.0,212.6 L809.0,212.5 L809.9,212.3 L810.7,212.2 L810.9,212.1 L811.9,212.0 L812.8,211.7 L813.8,211.4 L814.1,211.3 L814.7,211.0 L815.7,210.6 L816.7,210.2 L817.6,209.7 L818.4,209.3 L818.6,209.2 L819.3,208.8 L819.5,208.6 L820.1,208.4 L820.5,208.1 L820.9,207.9 L821.5,207.5 L821.7,207.3 L822.4,206.8 L822.5,206.8 L823.3,206.1 L823.4,206.1 L824.1,205.5 L824.4,205.3 L824.9,204.8 L825.3,204.4 L825.8,204.0 L826.3,203.5 L826.6,203.3 L827.2,202.6 L827.4,202.5 L828.2,201.7 L828.2,201.6 L829.0,200.8 L829.2,200.6 L829.8,199.8 L830.1,199.4 L830.6,198.8 L831.1,198.2 L831.2,198.0 L831.4,197.8 L831.4,197.7 L831.5,197.6 L831.6,197.4 L831.8,197.2 L831.9,197.0 L832.1,196.8 L832.2,196.6 L832.3,196.5 L832.3,196.4 L832.5,196.2 L832.6,196.0 L832.8,195.8 L832.9,195.5 L833.0,195.3 L833.1,195.2 L833.2,195.1 L833.3,194.8 L833.4,194.6 L833.6,194.3 L833.7,194.1 L833.9,193.8 L834.0,193.6 L834.1,193.3 L834.3,193.0 L834.4,192.8 L834.6,192.5 L834.7,192.2 L834.8,191.9 L835.0,191.7 L835.1,191.4 L835.2,191.1 L835.4,190.8 L835.5,190.5 L835.7,190.1 L835.8,189.8 L835.9,189.4 L836.1,189.1 L836.2,188.7 L836.3,188.4 L836.4,188.3 L836.5,187.9 L836.6,187.6 L836.8,187.2 L836.9,186.8 L837.0,186.3 L837.1,186.1 L837.2,185.9 L837.3,185.5 L837.5,185.1 L837.6,184.7 L837.7,184.3 L837.9,183.9 L837.9,183.7 L838.0,183.5 L838.2,183.1 L838.3,182.7 L838.4,182.3 L838.6,181.9 L838.7,181.5 L838.8,181.4 L838.8,181.1 L839.0,180.7 L839.1,180.3 L839.3,179.9 L839.4,179.5 L839.5,179.1 L839.6,179.0 L839.7,178.7 L839.8,178.3 L840.0,177.9 L840.1,177.4 L840.2,177.0 L840.4,176.6 L840.4,176.5 L840.5,176.2 L840.6,175.7 L840.8,175.3 L840.9,174.8 L841.1,174.4 L841.2,173.9 L841.3,173.5 L841.5,173.0 L841.6,172.5 L841.8,172.0 L841.9,171.5 L842.0,171.0 L842.2,170.5 L842.3,170.0 L842.4,169.4 L842.6,168.9 L842.7,168.3 L842.9,167.8 L843.0,167.2 L843.1,166.6 L843.3,166.1 L843.4,165.5 L843.6,164.9 L843.7,164.3 L843.8,163.7 L844.0,163.2 L844.1,162.6 L844.2,162.0 L844.4,161.4 L844.5,160.8 L844.7,160.2 L844.8,159.6 L844.9,159.1 L845.1,158.5 L845.2,157.9 L845.3,157.3 L845.5,156.7 L845.6,156.1 L845.8,155.5 L845.9,154.9 L846.0,154.2 L846.2,153.6 L846.3,153.0 L846.5,152.4 L846.6,151.8 L846.7,151.1 L846.9,150.5 L847.0,149.9 L847.1,149.3 L847.3,148.7 L847.4,148.0 L847.6,147.4 L847.7,146.8 L847.8,146.2 L848.0,145.6 L848.1,145.0 L848.3,144.4 L848.4,143.8 L848.5,143.2 L848.7,142.6 L848.8,142.0 L848.9,141.4 L849.1,140.8 L849.2,140.2 L849.4,139.6 L849.5,139.0 L849.6,138.4 L849.8,137.8 L849.9,137.3 L850.1,136.7 L850.2,136.1 L850.3,135.5 L850.5,134.9 L850.6,134.3 L850.7,133.8 L850.9,133.2 L851.0,132.7 L851.2,132.1 L851.3,131.6 L851.4,131.0 L851.6,130.5 L851.7,130.0 L851.9,129.5 L852.0,129.1 L852.1,128.6 L852.3,128.2 L852.4,127.8 L852.5,127.4 L852.7,126.9 L852.8,126.5 L853.0,126.0 L853.1,125.5 L853.2,125.0 L853.4,124.4 L853.5,123.9 L853.7,123.3 L853.8,122.7 L853.9,122.2 L854.1,121.6 L854.2,121.0 L854.3,120.4 L854.5,119.8 L854.6,119.2 L854.8,118.6 L854.9,118.1 L855.0,117.5 L855.2,117.0 L855.3,116.5 L855.5,116.0 L855.6,115.5 L855.7,115.1 L855.9,114.6 L856.0,114.1 L856.1,113.7 L856.3,113.2 L856.4,112.8 L856.6,112.3 L856.7,111.9 L856.8,111.4 L857.0,111.0 L857.1,110.6 L857.3,110.1 L857.4,109.7 L857.5,109.3 L857.7,108.9 L857.8,108.5 L857.9,108.1 L858.1,107.7 L858.2,107.3 L858.4,107.0 L858.5,106.6 L858.6,106.2 L858.8,105.9 L858.9,105.5 L859.0,105.2 L859.2,104.8 L859.3,104.5 L859.5,104.2 L859.6,103.8 L859.7,103.5 L859.9,103.2 L860.0,102.9 L860.2,102.6 L860.3,102.3 L860.4,102.0 L860.6,101.7 L860.7,101.4 L860.8,101.2 L861.0,100.9 L861.1,100.6 L861.3,100.3 L861.4,100.1 L861.5,99.8 L861.7,99.5 L861.8,99.3 L862.0,99.0 L862.1,98.7 L862.2,98.5 L862.4,98.2 L862.5,97.9 L862.6,97.7 L862.8,97.4 L862.9,97.1 L863.0,96.9 L863.1,96.9 L863.2,96.6 L863.3,96.3 L863.5,96.1 L863.6,95.8 L863.8,95.5 L863.8,95.3 L863.9,95.2 L864.0,94.9 L864.2,94.7 L864.3,94.4 L864.4,94.1 L864.6,93.8 L864.7,93.6 L864.7,93.5 L864.9,93.2 L865.0,92.9 L865.1,92.6 L865.3,92.3 L865.4,92.0 L865.5,91.8 L865.6,91.7 L865.7,91.4 L865.8,91.1 L866.0,90.8 L866.1,90.5 L866.2,90.2 L866.3,90.1 L866.4,89.9 L866.5,89.7 L866.7,89.4 L866.8,89.1 L866.9,88.9 L867.1,88.7 L867.1,88.6 L867.2,88.4 L867.4,88.2 L867.5,88.0 L867.6,87.8 L867.8,87.6 L867.9,87.4 L868.0,87.2 L868.2,87.1 L868.3,86.9 L868.5,86.8 L868.6,86.6 L868.7,86.5 L868.9,86.3 L869.0,86.2 L869.2,86.0 L869.3,85.9 L869.4,85.7 L869.5,85.6 L869.6,85.6 L869.7,85.5 L869.8,85.3 L870.0,85.2 L870.1,85.1 L870.3,85.0 L870.3,84.9 L870.4,84.9 L870.5,84.7 L870.7,84.6 L870.8,84.5 L871.0,84.4 L871.1,84.3 L871.2,84.2 L871.4,84.1 L871.5,84.0 L872.0,83.6 L872.5,83.2 L872.8,83.0 L873.4,82.6 L873.6,82.5 L874.4,81.9 L875.2,81.3 L875.4,81.2 L876.0,80.8 L876.3,80.6 L876.8,80.3 L877.3,80.0 L877.7,79.8 L878.2,79.4 L878.5,79.3 L879.2,78.8 L879.3,78.8 L880.1,78.3 L880.2,78.3 L880.9,77.9 L881.1,77.7 L881.7,77.4 L882.1,77.2 L882.5,77.0 L883.1,76.7 L883.3,76.5 L884.0,76.2 L884.2,76.1 L885.0,75.7 L885.9,75.2 L886.9,74.8 L887.9,74.3 L888.8,73.8 L889.8,73.4 L890.7,73.0 L891.7,72.5 L892.7,72.1 L893.6,71.7 L894.6,71.3 L895.6,70.9 L896.5,70.5 L897.5,70.1 L898.4,69.8 L899.4,69.4 L900.4,69.1 L901.3,68.7 L902.3,68.4 L903.3,68.1 L904.2,67.8 L905.2,67.5 L906.1,67.1 L907.1,66.8 L908.1,66.5 L909.0,66.3 L910.0,66.0 L911.0,65.7 L911.9,65.4 L912.9,65.1 L913.8,64.8 L914.8,64.5 L915.8,64.2 L916.7,63.9 L917.7,63.6 L918.6,63.4 L924.8,61.6 L930.9,59.8 L937.0,58.1 L943.1,56.5 L949.3,54.9 L955.4,53.5 L961.5,52.0 L967.6,50.7 L973.8,49.4 L979.9,48.1" fill="none" stroke="#1f77b4" stroke-width="1.7" stroke-linejoin="round" stroke-linecap="square"/>
<path d="M716.6,214.1 L720.1,214.1 L723.6,214.1 L727.1,214.1 L730.5,214.1 L734.0,214.1 L737.5,214.1 L741.0,214.1 L744.5,214.1 L748.0,214.1 L751.4,214.1 L754.9,214.1 L758.4,214.1 L761.9,214.1 L765.4,214.1 L768.9,214.1 L772.3,214.1 L775.8,214.1 L779.3,214.1 L782.8,214.1 L783.9,214.1 L784.9,214.1 L785.9,214.1 L786.3,214.1 L786.8,214.1 L787.8,214.1 L788.8,214.1 L789.7,214.1 L789.8,214.1 L790.7,214.1 L791.6,214.1 L792.6,214.1 L793.2,214.1 L793.6,214.1 L794.5,214.1 L795.5,214.1 L796.5,214.1 L796.7,214.1 L797.4,214.1 L798.4,214.1 L799.3,214.1 L800.2,214.1 L800.3,214.1 L801.3,214.1 L802.2,214.1 L803.2,214.1 L803.7,214.1 L804.2,214.1 L805.1,214.1 L806.1,214.1 L807.0,214.1 L807.2,214.1 L808.0,214.1 L809.0,214.1 L809.9,214.1 L810.7,214.1 L810.9,214.1 L811.9,214.1 L812.8,214.1 L813.8,214.1 L814.1,214.1 L814.7,214.1 L815.7,214.1 L816.7,214.1 L817.6,214.0 L818.4,214.0 L818.6,214.0 L819.3,214.0 L819.5,214.0 L820.1,214.0 L820.5,213.9 L820.9,213.9 L821.5,213.9 L821.7,213.9 L822.4,213.8 L822.5,213.8 L823.3,213.8 L823.4,213.8 L824.1,213.7 L824.4,213.7 L824.9,213.6 L825.3,213.6 L825.8,213.5 L826.3,213.4 L826.6,213.4 L827.2,213.3 L827.4,213.3 L828.2,213.1 L829.0,213.0 L829.2,212.9 L829.8,212.8 L830.1,212.7 L830.6,212.5 L831.1,212.3 L831.2,212.3 L831.4,212.2 L831.5,212.2 L831.6,212.1 L831.8,212.1 L831.9,212.0 L832.1,211.9 L832.2,211.9 L832.3,211.8 L832.5,211.7 L832.6,211.6 L832.8,211.5 L832.9,211.4 L833.0,211.3 L833.1,211.3 L833.2,211.2 L833.3,211.1 L833.4,211.0 L833.6,210.9 L833.7,210.8 L833.9,210.7 L834.0,210.6 L834.1,210.5 L834.3,210.4 L834.4,210.2 L834.6,210.1 L834.7,210.0 L834.8,209.9 L835.0,209.7 L835.1,209.6 L835.2,209.4 L835.4,209.3 L835.5,209.2 L835.7,209.0 L835.8,208.9 L835.9,208.7 L836.1,208.5 L836.2,208.4 L836.3,208.3 L836.4,208.2 L836.5,208.0 L836.6,207.9 L836.8,207.7 L836.9,207.5 L837.0,207.3 L837.1,207.2 L837.2,207.1 L837.3,206.9 L837.5,206.7 L837.6,206.5 L837.7,206.3 L837.9,206.0 L837.9,205.9 L838.0,205.8 L838.2,205.6 L838.3,205.3 L838.4,205.1 L838.6,204.8 L838.7,204.6 L838.8,204.5 L838.8,204.3 L839.0,204.0 L839.1,203.7 L839.3,203.4 L839.4,203.1 L839.5,202.8 L839.6,202.8 L839.7,202.5 L839.8,202.2 L840.0,201.9 L840.1,201.6 L840.2,201.2 L840.4,200.9 L840.4,200.8 L840.5,200.5 L840.6,200.2 L840.8,199.8 L840.9,199.4 L841.1,199.0 L841.2,198.6 L841.3,198.3 L841.5,197.9 L841.6,197.5 L841.8,197.0 L841.9,196.6 L842.0,196.2 L842.2,195.8 L842.3,195.3 L842.4,194.9 L842.6,194.4 L842.7,194.0 L842.9,193.5 L843.0,193.0 L843.1,192.4 L843.3,191.9 L843.4,191.3 L843.6,190.8 L843.7,190.1 L843.8,189.4 L844.0,188.7 L844.1,188.0 L844.2,187.2 L844.4,186.4 L844.5,185.5 L844.7,184.7 L844.8,183.9 L844.9,183.0 L845.1,182.2 L845.2,181.4 L845.3,180.6 L845.5,179.7 L845.6,178.9 L845.8,178.0 L845.9,177.2 L846.0,176.3 L846.2,175.4 L846.3,174.5 L846.5,173.7 L846.6,172.8 L846.7,171.9 L846.9,171.0 L847.0,170.1 L847.1,169.3 L847.3,168.4 L847.4,167.5 L847.6,166.6 L847.7,165.7 L847.8,164.8 L848.0,163.8 L848.1,162.9 L848.3,161.9 L848.4,160.8 L848.5,159.8 L848.7,158.7 L848.8,157.5 L848.9,156.3 L849.1,155.0 L849.2,153.7 L849.4,152.4 L849.5,151.1 L849.6,149.8 L849.8,148.5 L849.9,147.2 L850.1,145.9 L850.2,144.6 L850.3,143.3 L850.5,142.1 L850.6,140.9 L850.7,139.7 L850.9,138.6 L851.0,137.5 L851.2,136.4 L851.3,135.3 L851.4,134.2 L851.6,133.2 L851.7,132.1 L851.9,131.1 L852.0,130.1 L852.1,129.1 L852.3,128.2 L852.4,127.3 L852.5,126.4 L852.7,125.4 L852.8,124.3 L853.0,123.2 L853.1,122.1 L853.2,120.9 L853.4,119.8 L853.5,118.8 L853.7,117.8 L853.8,116.8 L853.9,115.9 L854.1,115.0 L854.2,114.1 L854.3,113.3 L854.5,112.5 L854.6,111.6 L854.8,110.9 L854.9,110.1 L855.0,109.4 L855.2,108.7 L855.3,108.1 L855.5,107.5 L855.6,106.8 L855.7,106.3 L855.9,105.7 L856.0,105.1 L856.1,104.6 L856.3,104.1 L856.4,103.6 L856.6,103.1 L856.7,102.6 L856.8,102.2 L857.0,101.8 L857.1,101.4 L857.3,101.0 L857.4,100.7 L857.5,100.3 L857.7,100.0 L857.8,99.7 L857.9,99.3 L858.1,99.0 L858.2,98.7 L858.4,98.5 L858.5,98.2 L858.6,97.9 L858.8,97.6 L858.9,97.4 L859.0,97.1 L859.2,96.9 L859.3,96.6 L859.5,96.4 L859.6,96.1 L859.7,95.9 L859.9,95.6 L860.0,95.4 L860.2,95.1 L860.3,94.9 L860.4,94.7 L860.6,94.4 L860.7,94.2 L860.8,94.0 L861.0,93.7 L861.1,93.5 L861.3,93.3 L861.4,93.1 L861.5,92.8 L861.7,92.6 L861.8,92.4 L862.0,92.2 L862.1,92.0 L862.2,91.8 L862.4,91.6 L862.5,91.4 L862.6,91.2 L862.8,91.0 L862.9,90.8 L863.0,90.7 L863.1,90.6 L863.2,90.5 L863.3,90.3 L863.5,90.1 L863.6,89.9 L863.8,89.7 L863.8,89.6 L863.9,89.6 L864.0,89.4 L864.2,89.2 L864.3,89.1 L864.4,88.9 L864.6,88.7 L864.7,88.7 L864.7,88.6 L864.9,88.4 L865.0,88.3 L865.1,88.1 L865.3,88.0 L865.4,87.8 L865.5,87.8 L865.6,87.7 L865.7,87.5 L865.8,87.4 L866.0,87.3 L866.1,87.1 L866.2,87.0 L866.3,87.0 L866.4,86.9 L866.5,86.7 L866.7,86.6 L866.8,86.5 L866.9,86.4 L867.1,86.2 L867.2,86.1 L867.4,86.0 L867.5,85.9 L867.6,85.8 L867.8,85.6 L867.9,85.5 L868.0,85.4 L868.2,85.3 L868.3,85.2 L868.5,85.1 L868.6,84.9 L868.7,84.8 L868.9,84.7 L869.0,84.6 L869.2,84.5 L869.3,84.4 L869.4,84.3 L869.5,84.2 L869.6,84.2 L869.7,84.1 L869.8,84.0 L870.0,83.9 L870.1,83.8 L870.3,83.7 L870.3,83.6 L870.4,83.6 L870.5,83.5 L870.7,83.4 L870.8,83.3 L871.0,83.2 L871.1,83.1 L871.2,83.0 L871.4,82.9 L871.5,82.8 L872.0,82.5 L872.5,82.1 L872.8,81.9 L873.4,81.5 L873.6,81.4 L874.4,80.9 L875.2,80.4 L875.4,80.3 L876.0,79.9 L876.3,79.7 L876.8,79.4 L877.3,79.2 L877.7,79.0 L878.2,78.7 L878.5,78.5 L879.2,78.1 L879.3,78.1 L880.1,77.7 L880.2,77.6 L880.9,77.3 L881.1,77.1 L881.7,76.8 L882.1,76.7 L882.5,76.4 L883.1,76.2 L883.3,76.1 L884.0,75.7 L884.2,75.7 L885.0,75.3 L885.9,74.8 L886.9,74.4 L887.9,74.0 L888.8,73.5 L889.8,73.1 L890.7,72.7 L891.7,72.3 L892.7,71.9 L893.6,71.5 L894.6,71.2 L895.6,70.8 L896.5,70.4 L897.5,70.1 L898.4,69.7 L899.4,69.4 L900.4,69.0 L901.3,68.7 L902.3,68.4 L903.3,68.1 L904.2,67.7 L905.2,67.4 L906.1,67.1 L907.1,66.8 L908.1,66.5 L909.0,66.2 L910.0,66.0 L911.0,65.7 L911.9,65.4 L912.9,65.1 L913.8,64.8 L914.8,64.5 L915.8,64.2 L916.7,63.9 L917.7,63.7 L918.6,63.4 L924.8,61.6 L930.9,59.8 L937.0,58.1 L943.1,56.5 L949.3,54.9 L955.4,53.5 L961.5,52.0 L967.6,50.7 L973.8,49.4 L979.9,48.1" fill="none" stroke="#ff7f0e" stroke-width="1.7" stroke-linejoin="round" stroke-linecap="square"/>
<path d="M716.6,214.1 L720.1,214.1 L723.6,214.1 L727.1,214.1 L730.5,214.1 L734.0,214.1 L737.5,214.1 L741.0,214.1 L744.5,214.1 L748.0,214.1 L751.4,214.1 L754.9,214.1 L758.4,214.1 L761.9,214.1 L765.4,214.1 L768.9,214.1 L772.3,214.1 L775.8,214.1 L779.3,214.1 L782.8,214.1 L783.9,214.1 L784.9,214.1 L785.9,214.1 L786.3,214.1 L786.8,214.1 L787.8,214.1 L788.8,214.1 L789.7,214.1 L789.8,214.1 L790.7,214.1 L791.6,214.1 L792.6,214.1 L793.2,214.1 L793.6,214.1 L794.5,214.1 L795.5,214.1 L796.5,214.1 L796.7,214.1 L797.4,214.1 L798.4,214.1 L799.3,214.1 L800.2,214.1 L800.3,214.1 L801.3,214.1 L802.2,214.1 L803.2,214.1 L803.7,214.1 L804.2,214.1 L805.1,214.1 L806.1,214.1 L807.0,214.1 L807.2,214.1 L808.0,214.1 L809.0,214.1 L809.9,214.1 L810.7,214.1 L810.9,214.1 L811.9,214.1 L812.8,214.1 L813.8,214.1 L814.1,214.1 L814.7,214.1 L815.7,214.1 L816.7,214.1 L817.6,214.1 L818.4,214.1 L818.6,214.1 L819.3,214.1 L819.5,214.1 L820.1,214.1 L820.5,214.1 L820.9,214.1 L821.5,214.1 L821.7,214.1 L822.4,214.1 L822.5,214.1 L823.3,214.1 L823.4,214.1 L824.1,214.1 L824.4,214.1 L824.9,214.1 L825.3,214.1 L825.8,214.1 L826.3,214.1 L826.6,214.1 L827.2,214.1 L827.4,214.1 L828.2,214.1 L829.0,214.1 L829.2,214.1 L829.8,214.1 L830.1,214.1 L830.6,214.0 L831.1,214.0 L831.2,214.0 L831.4,214.0 L831.5,214.0 L831.6,214.0 L831.8,213.9 L831.9,213.9 L832.1,213.9 L832.2,213.9 L832.3,213.9 L832.5,213.9 L832.6,213.9 L832.8,213.8 L832.9,213.8 L833.0,213.8 L833.1,213.8 L833.2,213.8 L833.3,213.8 L833.4,213.8 L833.6,213.7 L833.7,213.7 L833.9,213.7 L834.0,213.7 L834.1,213.6 L834.3,213.6 L834.4,213.6 L834.6,213.6 L834.7,213.5 L834.8,213.5 L835.0,213.5 L835.1,213.5 L835.2,213.4 L835.4,213.4 L835.5,213.4 L835.7,213.3 L835.8,213.3 L835.9,213.3 L836.1,213.3 L836.2,213.2 L836.3,213.2 L836.4,213.2 L836.5,213.1 L836.6,213.1 L836.8,213.0 L836.9,213.0 L837.0,212.9 L837.1,212.9 L837.2,212.9 L837.3,212.8 L837.5,212.7 L837.6,212.7 L837.7,212.6 L837.9,212.5 L838.0,212.4 L838.2,212.4 L838.3,212.3 L838.4,212.2 L838.6,212.1 L838.7,212.0 L838.8,211.9 L839.0,211.7 L839.1,211.6 L839.3,211.5 L839.4,211.3 L839.5,211.2 L839.6,211.2 L839.7,211.0 L839.8,210.9 L840.0,210.7 L840.1,210.6 L840.2,210.4 L840.4,210.2 L840.5,210.1 L840.6,209.9 L840.8,209.7 L840.9,209.5 L841.1,209.3 L841.2,209.1 L841.3,208.9 L841.5,208.6 L841.6,208.4 L841.8,208.1 L841.9,207.9 L842.0,207.6 L842.2,207.3 L842.3,207.0 L842.4,206.6 L842.6,206.3 L842.7,206.0 L842.9,205.6 L843.0,205.2 L843.1,204.8 L843.3,204.4 L843.4,203.9 L843.6,203.5 L843.7,202.9 L843.8,202.4 L844.0,201.8 L844.1,201.2 L844.2,200.6 L844.4,200.0 L844.5,199.4 L844.7,198.7 L844.8,198.1 L844.9,197.5 L845.1,196.8 L845.2,196.2 L845.3,195.6 L845.5,195.0 L845.6,194.3 L845.8,193.6 L845.9,192.9 L846.0,192.1 L846.2,191.3 L846.3,190.4 L846.5,189.5 L846.6,188.4 L846.7,187.2 L846.9,186.0 L847.0,184.7 L847.1,183.4 L847.3,182.1 L847.4,180.8 L847.6,179.5 L847.7,178.2 L847.8,176.9 L848.0,175.6 L848.1,174.3 L848.3,173.0 L848.4,171.8 L848.5,170.6 L848.7,169.5 L848.8,168.4 L848.9,167.3 L849.1,166.2 L849.2,165.1 L849.4,163.9 L849.5,162.6 L849.6,161.3 L849.8,159.9 L849.9,158.3 L850.1,156.5 L850.2,154.5 L850.3,152.5 L850.5,150.4 L850.6,148.3 L850.7,146.2 L850.9,144.1 L851.0,142.2 L851.2,140.4 L851.3,138.7 L851.4,137.1 L851.6,135.6 L851.7,134.1 L851.9,132.6 L852.0,131.2 L852.1,129.7 L852.3,128.3 L852.4,126.9 L852.5,125.3 L852.7,123.7 L852.8,122.0 L853.0,120.4 L853.1,118.9 L853.2,117.5 L853.4,116.2 L853.5,114.9 L853.7,113.7 L853.8,112.6 L853.9,111.5 L854.1,110.4 L854.2,109.5 L854.3,108.6 L854.5,107.8 L854.6,107.0 L854.8,106.3 L854.9,105.6 L855.0,104.9 L855.2,104.2 L855.3,103.6 L855.5,103.0 L855.6,102.5 L855.7,102.0 L855.9,101.5 L856.0,101.1 L856.1,100.7 L856.3,100.3 L856.4,99.9 L856.6,99.6 L856.7,99.3 L856.8,99.0 L857.0,98.6 L857.1,98.4 L857.3,98.1 L857.4,97.8 L857.5,97.5 L857.7,97.3 L857.8,97.0 L857.9,96.8 L858.1,96.5 L858.2,96.3 L858.4,96.1 L858.5,95.8 L858.6,95.6 L858.8,95.3 L858.9,95.1 L859.0,94.9 L859.2,94.7 L859.3,94.4 L859.5,94.2 L859.6,94.0 L859.7,93.8 L859.9,93.6 L860.0,93.4 L860.2,93.2 L860.3,93.0 L860.4,92.8 L860.6,92.6 L860.7,92.4 L860.8,92.2 L861.0,92.0 L861.1,91.8 L861.3,91.6 L861.4,91.5 L861.5,91.3 L861.7,91.1 L861.8,90.9 L862.0,90.8 L862.1,90.6 L862.2,90.5 L862.2,90.4 L862.4,90.3 L862.5,90.1 L862.6,90.0 L862.8,89.8 L862.9,89.7 L863.0,89.5 L863.1,89.5 L863.2,89.3 L863.3,89.2 L863.5,89.1 L863.6,88.9 L863.8,88.8 L863.8,88.7 L863.9,88.6 L864.0,88.5 L864.2,88.3 L864.3,88.2 L864.4,88.1 L864.6,87.9 L864.7,87.9 L864.7,87.8 L864.9,87.7 L865.0,87.5 L865.1,87.4 L865.3,87.3 L865.4,87.1 L865.5,87.1 L865.6,87.0 L865.7,86.9 L865.8,86.8 L866.0,86.7 L866.1,86.5 L866.2,86.4 L866.3,86.4 L866.4,86.3 L866.5,86.2 L866.7,86.1 L866.8,85.9 L866.9,85.8 L867.1,85.7 L867.2,85.6 L867.4,85.5 L867.5,85.4 L867.6,85.3 L867.8,85.2 L867.9,85.0 L868.0,84.9 L868.2,84.8 L868.3,84.7 L868.5,84.6 L868.6,84.5 L868.7,84.4 L868.9,84.3 L869.0,84.2 L869.2,84.1 L869.3,84.0 L869.4,83.9 L869.5,83.8 L869.6,83.8 L869.7,83.7 L869.8,83.6 L870.0,83.5 L870.1,83.4 L870.3,83.3 L870.3,83.2 L870.4,83.2 L870.5,83.1 L870.7,83.0 L870.8,82.9 L871.0,82.8 L871.1,82.7 L871.2,82.6 L871.4,82.5 L871.5,82.4 L872.0,82.1 L872.5,81.8 L872.8,81.6 L873.4,81.2 L873.6,81.1 L874.4,80.6 L875.2,80.1 L875.4,80.0 L876.0,79.6 L876.3,79.5 L876.8,79.2 L877.3,78.9 L877.7,78.7 L878.2,78.4 L878.5,78.3 L879.2,77.9 L879.3,77.9 L880.1,77.5 L880.2,77.4 L880.9,77.1 L881.1,77.0 L881.7,76.7 L882.1,76.5 L882.5,76.3 L883.1,76.0 L883.3,75.9 L884.0,75.6 L884.2,75.5 L885.0,75.2 L885.9,74.7 L886.9,74.3 L887.9,73.9 L888.8,73.5 L889.8,73.0 L890.7,72.6 L891.7,72.3 L892.7,71.9 L893.6,71.5 L894.6,71.1 L895.6,70.7 L896.5,70.4 L897.5,70.0 L898.4,69.7 L899.4,69.3 L900.4,69.0 L901.3,68.7 L902.3,68.4 L903.3,68.0 L904.2,67.7 L905.2,67.4 L906.1,67.1 L907.1,66.8 L908.1,66.5 L909.0,66.2 L910.0,66.0 L911.0,65.7 L911.9,65.4 L912.9,65.1 L913.8,64.8 L914.8,64.5 L915.8,64.2 L916.7,63.9 L917.7,63.7 L918.6,63.4 L924.8,61.6 L930.9,59.8 L937.0,58.1 L943.1,56.5 L949.3,54.9 L955.4,53.5 L961.5,52.0 L967.6,50.7 L973.8,49.4 L979.9,48.1" fill="none" stroke="#2ca02c" stroke-width="1.7" stroke-linejoin="round" stroke-linecap="square"/>
<path d="M716.6,214.1 L720.1,214.1 L723.6,214.1 L727.1,214.1 L730.5,214.1 L734.0,214.1 L737.5,214.1 L741.0,214.1 L744.5,214.1 L748.0,214.1 L751.4,214.1 L754.9,214.1 L758.4,214.1 L761.9,214.1 L765.4,214.1 L768.9,214.1 L772.3,214.1 L775.8,214.1 L779.3,214.1 L782.8,214.1 L783.9,214.1 L784.9,214.1 L785.9,214.1 L786.3,214.1 L786.8,214.1 L787.8,214.1 L788.8,214.1 L789.7,214.1 L789.8,214.1 L790.7,214.1 L791.6,214.1 L792.6,214.1 L793.2,214.1 L793.6,214.1 L794.5,214.1 L795.5,214.1 L796.5,214.1 L796.7,214.1 L797.4,214.1 L798.4,214.1 L799.3,214.1 L800.2,214.1 L800.3,214.1 L801.3,214.1 L802.2,214.1 L803.2,214.1 L803.7,214.1 L804.2,214.1 L805.1,214.1 L806.1,214.1 L807.0,214.1 L807.2,214.1 L808.0,214.1 L809.0,214.1 L809.9,214.1 L810.7,214.1 L810.9,214.1 L811.9,214.1 L812.8,214.1 L813.8,214.1 L814.1,214.1 L814.7,214.1 L815.7,214.1 L816.7,214.1 L817.6,214.1 L818.4,214.1 L818.6,214.1 L819.3,214.1 L819.5,214.1 L820.1,214.1 L820.5,214.1 L820.9,214.1 L821.5,214.1 L821.7,214.1 L822.4,214.1 L822.5,214.1 L823.3,214.1 L823.4,214.1 L824.1,214.1 L824.4,214.1 L824.9,214.1 L825.3,214.1 L825.8,214.1 L826.3,214.1 L826.6,214.1 L827.2,214.1 L827.4,214.1 L828.2,214.1 L829.0,214.1 L829.2,214.1 L829.8,214.1 L830.1,214.1 L830.6,214.1 L831.1,214.1 L831.2,214.1 L831.4,214.1 L831.5,214.1 L831.6,214.1 L831.8,214.1 L831.9,214.1 L832.1,214.1 L832.2,214.1 L832.3,214.1 L832.5,214.1 L832.6,214.1 L832.8,214.1 L832.9,214.1 L833.0,214.1 L833.1,214.1 L833.2,214.1 L833.3,214.1 L833.4,214.1 L833.6,214.1 L833.7,214.1 L833.9,214.1 L834.0,214.1 L834.1,214.1 L834.3,214.1 L834.4,214.1 L834.6,214.1 L834.7,214.1 L834.8,214.1 L835.0,214.1 L835.1,214.1 L835.2,214.1 L835.4,214.1 L835.5,214.1 L835.7,214.1 L835.8,214.1 L835.9,214.1 L836.1,214.1 L836.2,214.1 L836.3,214.1 L836.4,214.1 L836.5,214.1 L836.6,214.1 L836.8,214.0 L836.9,214.0 L837.0,214.0 L837.1,214.0 L837.2,214.0 L837.3,214.0 L837.5,213.9 L837.6,213.9 L837.7,213.9 L837.9,213.9 L837.9,213.8 L838.0,213.8 L838.2,213.8 L838.3,213.8 L838.4,213.7 L838.6,213.7 L838.7,213.7 L838.8,213.7 L839.0,213.6 L839.1,213.6 L839.3,213.6 L839.4,213.5 L839.5,213.5 L839.6,213.5 L839.7,213.4 L839.8,213.4 L840.0,213.4 L840.1,213.3 L840.2,213.3 L840.4,213.2 L840.5,213.2 L840.6,213.1 L840.8,213.1 L840.9,213.0 L841.1,212.9 L841.2,212.8 L841.3,212.7 L841.5,212.6 L841.6,212.4 L841.8,212.3 L841.9,212.2 L842.0,212.0 L842.2,211.9 L842.3,211.7 L842.4,211.5 L842.6,211.3 L842.7,211.2 L842.9,211.0 L843.0,210.8 L843.1,210.6 L843.3,210.4 L843.4,210.2 L843.6,209.9 L843.7,209.7 L843.8,209.4 L844.0,209.2 L844.1,208.9 L844.2,208.5 L844.4,208.2 L844.5,207.8 L844.7,207.4 L844.8,207.0 L844.9,206.6 L845.1,206.1 L845.2,205.6 L845.3,205.1 L845.5,204.6 L845.6,203.9 L845.8,203.1 L845.9,202.2 L846.0,201.3 L846.2,200.3 L846.3,199.3 L846.5,198.4 L846.6,197.5 L846.7,196.6 L846.9,195.8 L847.0,195.0 L847.1,194.2 L847.3,193.3 L847.4,192.4 L847.6,191.3 L847.7,190.1 L847.8,188.7 L848.0,187.2 L848.1,185.6 L848.3,183.8 L848.4,182.0 L848.5,180.2 L848.7,178.4 L848.8,176.6 L848.9,174.8 L849.1,173.2 L849.2,171.7 L849.4,170.3 L849.5,169.1 L849.6,167.8 L849.8,166.6 L849.9,165.3 L850.1,163.9 L850.2,162.5 L850.3,160.8 L850.5,159.0 L850.6,156.7 L850.7,154.0 L850.9,151.1 L851.0,148.0 L851.2,145.1 L851.3,142.3 L851.4,140.0 L851.6,137.8 L851.7,135.9 L851.9,134.0 L852.0,132.1 L852.1,130.3 L852.3,128.3 L852.4,126.3 L852.5,124.1 L852.7,121.9 L852.8,119.9 L853.0,118.1 L853.1,116.5 L853.2,114.9 L853.4,113.4 L853.5,112.0 L853.7,110.7 L853.8,109.5 L853.9,108.5 L854.1,107.6 L854.2,106.7 L854.3,105.9 L854.5,105.1 L854.6,104.3 L854.8,103.6 L854.9,103.0 L855.0,102.4 L855.2,101.9 L855.3,101.4 L855.5,100.9 L855.6,100.5 L855.7,100.1 L855.9,99.7 L856.0,99.4 L856.1,99.1 L856.3,98.7 L856.4,98.4 L856.6,98.2 L856.7,97.9 L856.8,97.6 L857.0,97.4 L857.1,97.1 L857.3,96.9 L857.4,96.6 L857.5,96.4 L857.7,96.1 L857.8,95.9 L857.9,95.7 L858.1,95.4 L858.2,95.2 L858.4,95.0 L858.5,94.8 L858.6,94.6 L858.8,94.3 L858.9,94.1 L859.0,93.9 L859.2,93.7 L859.3,93.5 L859.5,93.3 L859.6,93.1 L859.7,92.9 L859.9,92.7 L860.0,92.5 L860.2,92.4 L860.3,92.2 L860.4,92.0 L860.6,91.8 L860.7,91.7 L860.8,91.5 L861.0,91.3 L861.1,91.2 L861.3,91.0 L861.4,90.8 L861.5,90.7 L861.7,90.5 L861.8,90.4 L862.0,90.2 L862.1,90.1 L862.2,89.9 L862.4,89.8 L862.5,89.6 L862.6,89.5 L862.8,89.3 L862.9,89.2 L863.0,89.1 L863.1,89.0 L863.2,88.9 L863.3,88.8 L863.5,88.6 L863.6,88.5 L863.8,88.4 L863.8,88.3 L863.9,88.2 L864.0,88.1 L864.2,88.0 L864.3,87.8 L864.4,87.7 L864.6,87.6 L864.7,87.5 L864.9,87.3 L865.0,87.2 L865.1,87.1 L865.3,87.0 L865.4,86.9 L865.5,86.8 L865.6,86.7 L865.7,86.6 L865.8,86.5 L866.0,86.4 L866.1,86.3 L866.2,86.2 L866.3,86.1 L866.4,86.0 L866.5,85.9 L866.7,85.8 L866.8,85.7 L866.9,85.6 L867.1,85.5 L867.2,85.4 L867.4,85.3 L867.5,85.1 L867.6,85.0 L867.8,84.9 L867.9,84.8 L868.0,84.7 L868.2,84.6 L868.3,84.5 L868.5,84.4 L868.6,84.3 L868.7,84.2 L868.9,84.1 L869.0,84.0 L869.2,83.9 L869.3,83.8 L869.4,83.7 L869.5,83.6 L869.6,83.6 L869.7,83.5 L869.8,83.4 L870.0,83.3 L870.1,83.2 L870.3,83.1 L870.3,83.0 L870.4,83.0 L870.5,82.9 L870.7,82.8 L870.8,82.7 L871.0,82.6 L871.1,82.5 L871.2,82.5 L871.2,82.4 L871.4,82.3 L871.5,82.2 L872.0,81.9 L872.5,81.6 L872.8,81.4 L873.4,81.0 L873.6,80.9 L874.4,80.4 L875.2,80.0 L875.4,79.9 L876.0,79.5 L876.3,79.3 L876.8,79.1 L877.3,78.8 L877.7,78.6 L878.2,78.3 L878.5,78.2 L879.2,77.8 L879.3,77.8 L880.1,77.4 L880.2,77.3 L880.9,77.0 L881.1,76.9 L881.7,76.6 L882.1,76.4 L882.5,76.2 L883.1,76.0 L883.3,75.8 L884.0,75.5 L884.2,75.5 L885.0,75.1 L885.9,74.7 L886.9,74.2 L887.9,73.8 L888.8,73.4 L889.8,73.0 L890.7,72.6 L891.7,72.2 L892.7,71.8 L893.6,71.5 L894.6,71.1 L895.6,70.7 L896.5,70.4 L897.5,70.0 L898.4,69.7 L899.4,69.3 L900.4,69.0 L901.3,68.7 L902.3,68.4 L903.3,68.0 L904.2,67.7 L905.2,67.4 L906.1,67.1 L907.1,66.8 L908.1,66.5 L909.0,66.2 L910.0,66.0 L911.0,65.7 L911.9,65.4 L912.9,65.1 L913.8,64.8 L914.8,64.5 L915.8,64.2 L916.7,63.9 L917.7,63.7 L918.6,63.4 L924.8,61.6 L930.9,59.8 L937.0,58.1 L943.1,56.5 L949.3,54.9 L955.4,53.5 L961.5,52.0 L967.6,50.7 L973.8,49.4 L979.9,48.1" fill="none" stroke="#d62728" stroke-width="1.7" stroke-linejoin="round" stroke-linecap="square"/>
<line x1="716.50" y1="214.83" x2="716.50" y2="218.13" stroke="#1a1a1a" stroke-width="0.8"/>
<text x="718.0" y="230.8" class="tk" text-anchor="middle">1.8</text>
<line x1="851.20" y1="214.83" x2="851.20" y2="218.13" stroke="#1a1a1a" stroke-width="0.8"/>
<text x="851.5" y="230.8" class="tk" text-anchor="middle">2.0</text>
<line x1="985.90" y1="214.83" x2="985.90" y2="218.13" stroke="#1a1a1a" stroke-width="0.8"/>
<text x="986.2" y="230.8" class="tk" text-anchor="middle">2.2</text>
<line x1="700.30" y1="26.34" x2="703.60" y2="26.34" stroke="#1a1a1a" stroke-width="0.8"/>
<text x="699.2" y="31.3" class="tk" text-anchor="end">0.8</text>
<line x1="700.30" y1="120.10" x2="703.60" y2="120.10" stroke="#1a1a1a" stroke-width="0.8"/>
<text x="699.2" y="124.0" class="tk" text-anchor="end">0.4</text>
<line x1="700.30" y1="214.00" x2="703.60" y2="214.00" stroke="#1a1a1a" stroke-width="0.8"/>
<text x="699.2" y="218.8" class="tk" text-anchor="end">0.0</text>
<text y="19.9" class="tt"><tspan x="765.4">Continuum</tspan><tspan x="844.0" style="letter-spacing:0.5px">limit</tspan><tspan x="879.0" style="letter-spacing:0.15px">for</tspan><tspan x="902.0">z</tspan></text><text x="909.5" y="22.8" class="tts">x</text>
<text x="709.4" y="48.7" class="pl" style="letter-spacing:1.7px">(c)</text>
<text x="837.2" y="247.4" class="xl">&#916;/c</text><text x="863.1" y="241.2" class="xls">2</text>
<g transform="translate(692.1,88.9) rotate(-90)"><text x="0" y="0" class="yz">z</text><text x="9.3" y="3.7" class="yzs">x</text></g>
<rect x="913.2" y="126.3" width="75.0" height="83.2" rx="2.2" ry="2.2" fill="#fff" fill-opacity="0.8" stroke="#cccccc" stroke-width="1"/>
<line x1="917.2" y1="137.4" x2="946.0" y2="137.4" stroke="#1f77b4" stroke-width="2"/>
<text x="955.8" y="142.2" class="lg">c=1</text>
<line x1="917.2" y1="157.1" x2="946.0" y2="157.1" stroke="#ff7f0e" stroke-width="2"/>
<text x="955.8" y="161.9" class="lg">c=2</text>
<line x1="917.2" y1="176.8" x2="946.0" y2="176.8" stroke="#2ca02c" stroke-width="2"/>
<text x="955.8" y="181.6" class="lg">c=3</text>
<line x1="917.2" y1="196.6" x2="946.0" y2="196.6" stroke="#d62728" stroke-width="2"/>
<text x="955.8" y="201.4" class="lg">c=4</text>

</g>
</svg>
</body></html>
